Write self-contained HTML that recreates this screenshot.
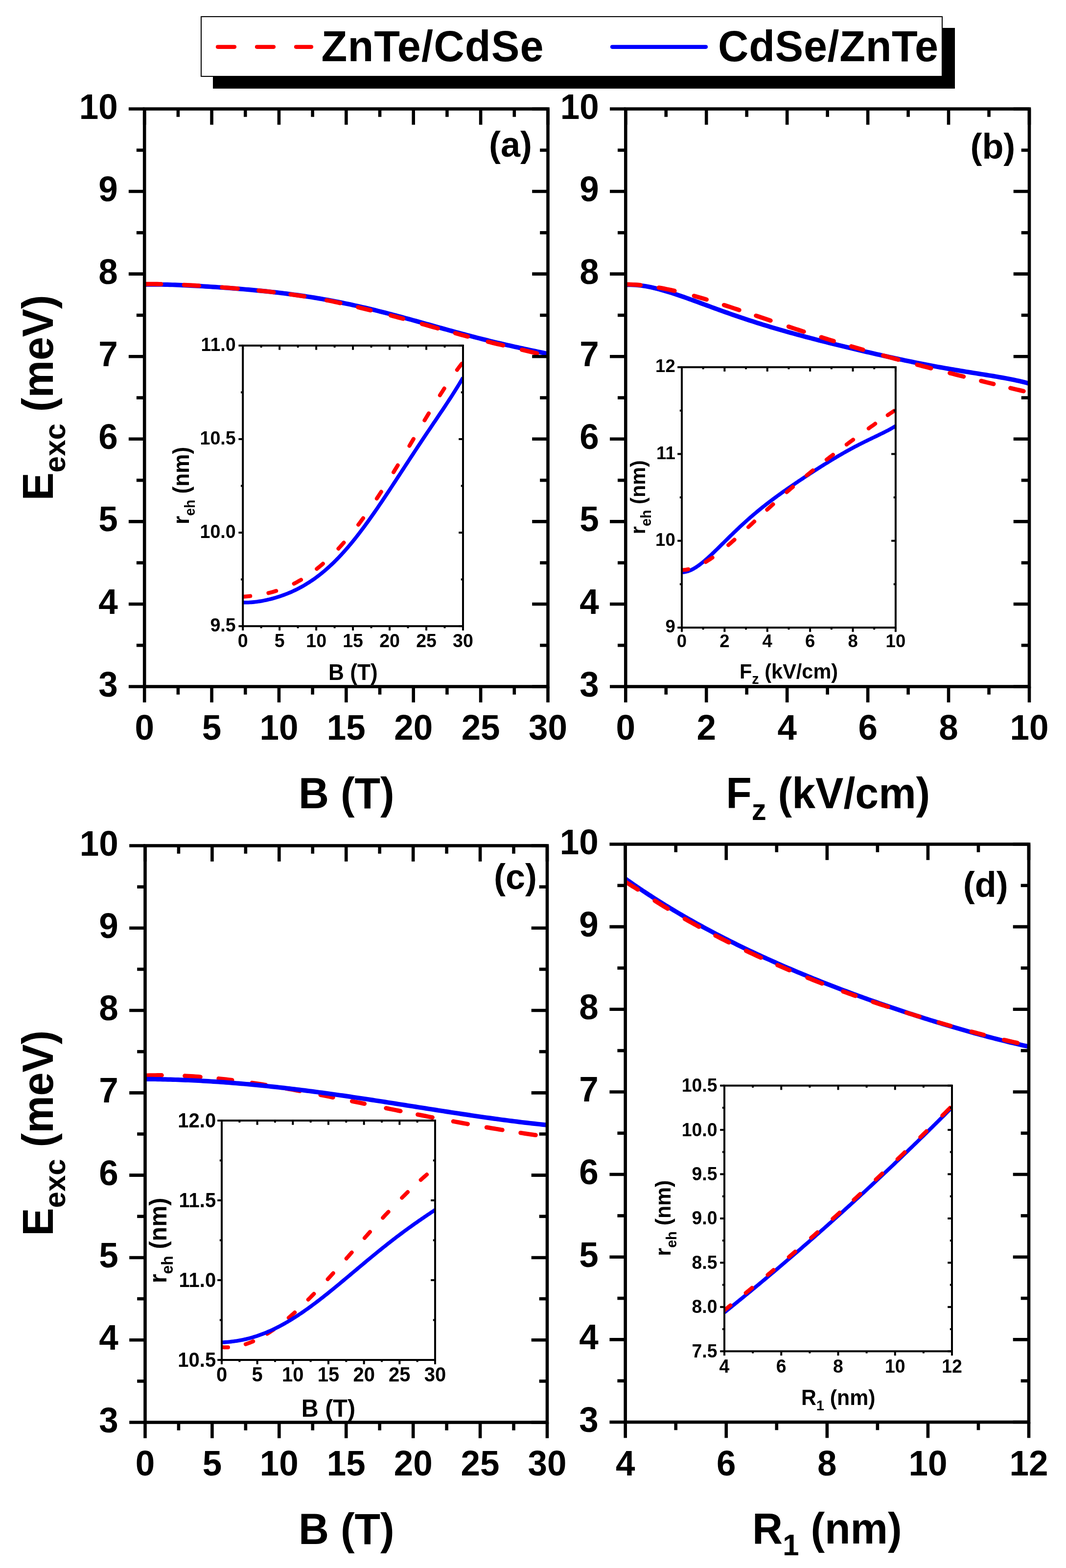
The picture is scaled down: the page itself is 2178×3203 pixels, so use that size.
<!DOCTYPE html>
<html><head><meta charset="utf-8"><title>Figure</title><style>html,body{margin:0;padding:0;background:#fff;}svg{display:block;}</style></head><body>
<svg width="2178" height="3203" viewBox="0 0 2178 3203" font-family="'Liberation Sans', Arial, sans-serif" font-weight="bold">
<rect width="2178" height="3203" fill="#fff"/>
<rect x="435" y="57" width="1516" height="124" fill="#000"/>
<rect x="411" y="34" width="1514" height="122" fill="#fff" stroke="#000" stroke-width="2"/>
<line x1="445" y1="95.8" x2="479" y2="95.8" stroke="#f00" stroke-width="8.2" stroke-linecap="round"/>
<line x1="525" y1="95.8" x2="559" y2="95.8" stroke="#f00" stroke-width="8.2" stroke-linecap="round"/>
<line x1="605" y1="95.8" x2="636" y2="95.8" stroke="#f00" stroke-width="8.2" stroke-linecap="round"/>
<line x1="1251" y1="95.8" x2="1442" y2="95.8" stroke="#00f" stroke-width="8.2" stroke-linecap="round"/>
<text transform="translate(656.5,124.8) scale(1,1.035)" font-size="86.5" text-anchor="start" letter-spacing="1.1">ZnTe/CdSe</text>
<text transform="translate(1467.1,124.8) scale(1,1.035)" font-size="86.5" text-anchor="start" letter-spacing="0.6">CdSe/ZnTe</text>
<defs>
<clipPath id="ca"><rect x="295.2" y="202.5" width="824.3" height="1200"/></clipPath>
<clipPath id="cb"><rect x="1278.3" y="202.5" width="824.7" height="1200"/></clipPath>
<clipPath id="cc"><rect x="296.5" y="1707.5" width="821.5" height="1198"/></clipPath>
<clipPath id="cd"><rect x="1277.7" y="1704.5" width="824.3" height="1200.5"/></clipPath>
<clipPath id="ia"><rect x="496.2" y="645.9" width="449.8" height="633.2"/></clipPath>
<clipPath id="ib"><rect x="1393" y="690.1" width="436.9" height="591.9"/></clipPath>
<clipPath id="ic"><rect x="453" y="2229" width="436" height="549"/></clipPath>
<clipPath id="id"><rect x="1480" y="2157.6" width="465" height="602.7"/></clipPath>
</defs>
<path d="M295.2,581.36 L300.38,581.25 L305.57,581.17 L310.75,581.13 L315.94,581.12 L321.12,581.13 L326.31,581.18 L331.49,581.25 L336.67,581.35 L341.86,581.47 L347.04,581.61 L352.23,581.76 L357.41,581.94 L362.6,582.13 L367.78,582.34 L372.96,582.56 L378.15,582.8 L383.33,583.04 L388.52,583.3 L393.7,583.57 L398.89,583.85 L404.07,584.14 L409.25,584.44 L414.44,584.75 L419.62,585.07 L424.81,585.39 L429.99,585.72 L435.18,586.06 L440.36,586.41 L445.54,586.77 L450.73,587.13 L455.91,587.5 L461.1,587.88 L466.28,588.27 L471.47,588.66 L476.65,589.07 L481.83,589.48 L487.02,589.9 L492.2,590.32 L497.39,590.76 L502.57,591.21 L507.76,591.67 L512.94,592.13 L518.12,592.61 L523.31,593.1 L528.49,593.6 L533.68,594.11 L538.86,594.63 L544.05,595.16 L549.23,595.71 L554.41,596.27 L559.6,596.84 L564.78,597.43 L569.97,598.03 L575.15,598.65 L580.34,599.28 L585.52,599.93 L590.7,600.59 L595.89,601.27 L601.07,601.97 L606.26,602.68 L611.44,603.41 L616.63,604.16 L621.81,604.92 L626.99,605.7 L632.18,606.5 L637.36,607.32 L642.55,608.16 L647.73,609.01 L652.92,609.89 L658.1,610.78 L663.28,611.7 L668.47,612.63 L673.65,613.58 L678.84,614.55 L684.02,615.54 L689.21,616.54 L694.39,617.57 L699.57,618.62 L704.76,619.68 L709.94,620.77 L715.13,621.87 L720.31,622.99 L725.49,624.13 L730.68,625.28 L735.86,626.45 L741.05,627.65 L746.23,628.85 L751.42,630.08 L756.6,631.32 L761.78,632.57 L766.97,633.84 L772.15,635.13 L777.34,636.43 L782.52,637.74 L787.71,639.07 L792.89,640.41 L798.07,641.76 L803.26,643.12 L808.44,644.49 L813.63,645.88 L818.81,647.27 L824,648.67 L829.18,650.08 L834.36,651.5 L839.55,652.93 L844.73,654.36 L849.92,655.79 L855.1,657.23 L860.29,658.67 L865.47,660.12 L870.65,661.57 L875.84,663.02 L881.02,664.47 L886.21,665.92 L891.39,667.37 L896.58,668.82 L901.76,670.26 L906.94,671.7 L912.13,673.14 L917.31,674.57 L922.5,676 L927.68,677.42 L932.87,678.84 L938.05,680.24 L943.23,681.64 L948.42,683.03 L953.6,684.41 L958.79,685.79 L963.97,687.15 L969.16,688.5 L974.34,689.84 L979.52,691.16 L984.71,692.48 L989.89,693.78 L995.08,695.07 L1000.26,696.35 L1005.45,697.61 L1010.63,698.86 L1015.81,700.1 L1021,701.33 L1026.18,702.54 L1031.37,703.74 L1036.55,704.93 L1041.74,706.1 L1046.92,707.26 L1052.1,708.42 L1057.29,709.56 L1062.47,710.69 L1067.66,711.81 L1072.84,712.92 L1078.03,714.03 L1083.21,715.13 L1088.39,716.23 L1093.58,717.32 L1098.76,718.41 L1103.95,719.5 L1109.13,720.59 L1114.32,721.68 L1119.5,722.78" fill="none" stroke="#00f" stroke-width="9.2" stroke-linejoin="round" stroke-linecap="butt" clip-path="url(#ca)"/>
<path d="M295.2,580.36 L300.38,580.27 L305.57,580.21 L310.75,580.19 L315.94,580.2 L321.12,580.24 L326.31,580.3 L331.49,580.4 L336.67,580.51 L341.86,580.65 L347.04,580.81 L352.23,580.99 L357.41,581.18 L362.6,581.4 L367.78,581.62 L372.96,581.87 L378.15,582.12 L383.33,582.39 L388.52,582.67 L393.7,582.96 L398.89,583.26 L404.07,583.57 L409.25,583.89 L414.44,584.22 L419.62,584.55 L424.81,584.9 L429.99,585.25 L435.18,585.61 L440.36,585.98 L445.54,586.36 L450.73,586.74 L455.91,587.13 L461.1,587.53 L466.28,587.94 L471.47,588.36 L476.65,588.78 L481.83,589.21 L487.02,589.65 L492.2,590.1 L497.39,590.56 L502.57,591.02 L507.76,591.5 L512.94,591.99 L518.12,592.48 L523.31,592.99 L528.49,593.51 L533.68,594.04 L538.86,594.58 L544.05,595.14 L549.23,595.71 L554.41,596.3 L559.6,596.92 L564.78,597.55 L569.97,598.19 L575.15,598.84 L580.34,599.52 L585.52,600.2 L590.7,600.91 L595.89,601.63 L601.07,602.36 L606.26,603.11 L611.44,603.88 L616.63,604.67 L621.81,605.47 L626.99,606.3 L632.18,607.14 L637.36,607.99 L642.55,608.87 L647.73,609.77 L652.92,610.68 L658.1,611.61 L663.28,612.57 L668.47,613.54 L673.65,614.53 L678.84,615.54 L684.02,616.62 L689.21,617.74 L694.39,618.88 L699.57,620.04 L704.76,621.21 L709.94,622.41 L715.13,623.62 L720.31,624.85 L725.49,626.1 L730.68,627.37 L735.86,628.65 L741.05,629.95 L746.23,631.27 L751.42,632.58 L756.6,633.82 L761.78,635.07 L766.97,636.34 L772.15,637.63 L777.34,638.93 L782.52,640.24 L787.71,641.57 L792.89,642.91 L798.07,644.26 L803.26,645.62 L808.44,646.99 L813.63,648.38 L818.81,649.77 L824,651.17 L829.18,652.58 L834.36,654 L839.55,655.43 L844.73,656.86 L849.92,658.29 L855.1,659.73 L860.29,661.17 L865.47,662.62 L870.65,664.07 L875.84,665.52 L881.02,666.97 L886.21,668.42 L891.39,669.87 L896.58,671.32 L901.76,672.76 L906.94,674.2 L912.13,675.64 L917.31,677.07 L922.5,678.5 L927.68,679.92 L932.87,681.34 L938.05,682.74 L943.23,684.14 L948.42,685.53 L953.6,686.91 L958.79,688.29 L963.97,689.65 L969.16,691 L974.34,692.34 L979.52,693.66 L984.71,694.98 L989.89,696.28 L995.08,697.57 L1000.26,698.85 L1005.45,700.11 L1010.63,701.36 L1015.81,702.6 L1021,703.83 L1026.18,705.04 L1031.37,706.24 L1036.55,707.43 L1041.74,708.6 L1046.92,709.76 L1052.1,710.98 L1057.29,712.27 L1062.47,713.55 L1067.66,714.82 L1072.84,716.09 L1078.03,717.34 L1083.21,718.59 L1088.39,719.84 L1093.58,721.08 L1098.76,722.32 L1103.95,723.56 L1109.13,724.8 L1114.32,726.05 L1119.5,727.28" fill="none" stroke="#f00" stroke-width="8.8" stroke-linejoin="round" stroke-dasharray="33.9 47.03 30.66 46.99 32.13 43.05 30.84 34.91 28.3 46.14 28.67 37.15 26.23 42.52 26.39 39.92 33.56 37.02 26.41 42.56 31.82 39.52 31.84 5000" stroke-linecap="round" clip-path="url(#ca)"/>
<path d="M1278.3,581.82 L1283.49,581.65 L1288.67,581.65 L1293.86,581.82 L1299.05,582.15 L1304.23,582.62 L1309.42,583.23 L1314.61,583.96 L1319.79,584.82 L1324.98,585.78 L1330.17,586.85 L1335.35,588.01 L1340.54,589.26 L1345.73,590.59 L1350.92,591.99 L1356.1,593.46 L1361.29,594.98 L1366.48,596.57 L1371.66,598.2 L1376.85,599.88 L1382.04,601.6 L1387.22,603.36 L1392.41,605.14 L1397.6,606.95 L1402.78,608.79 L1407.97,610.64 L1413.16,612.51 L1418.34,614.39 L1423.53,616.29 L1428.72,618.18 L1433.9,620.09 L1439.09,621.99 L1444.28,623.9 L1449.46,625.8 L1454.65,627.7 L1459.84,629.59 L1465.02,631.47 L1470.21,633.35 L1475.4,635.21 L1480.58,637.07 L1485.77,638.91 L1490.96,640.73 L1496.15,642.55 L1501.33,644.35 L1506.52,646.13 L1511.71,647.9 L1516.89,649.65 L1522.08,651.38 L1527.27,653.1 L1532.45,654.8 L1537.64,656.48 L1542.83,658.15 L1548.01,659.8 L1553.2,661.43 L1558.39,663.04 L1563.57,664.64 L1568.76,666.22 L1573.95,667.79 L1579.13,669.33 L1584.32,670.87 L1589.51,672.39 L1594.69,673.89 L1599.88,675.38 L1605.07,676.85 L1610.25,678.31 L1615.44,679.76 L1620.63,681.19 L1625.82,682.62 L1631,684.03 L1636.19,685.43 L1641.38,686.81 L1646.56,688.19 L1651.75,689.56 L1656.94,690.91 L1662.12,692.26 L1667.31,693.6 L1672.5,694.93 L1677.68,696.25 L1682.87,697.57 L1688.06,698.87 L1693.24,700.17 L1698.43,701.46 L1703.62,702.75 L1708.8,704.03 L1713.99,705.3 L1719.18,706.57 L1724.36,707.83 L1729.55,709.08 L1734.74,710.33 L1739.92,711.57 L1745.11,712.81 L1750.3,714.04 L1755.48,715.26 L1760.67,716.48 L1765.86,717.69 L1771.05,718.9 L1776.23,720.1 L1781.42,721.3 L1786.61,722.48 L1791.79,723.67 L1796.98,724.84 L1802.17,726.01 L1807.35,727.17 L1812.54,728.32 L1817.73,729.47 L1822.91,730.6 L1828.1,731.73 L1833.29,732.85 L1838.47,733.97 L1843.66,735.07 L1848.85,736.16 L1854.03,737.25 L1859.22,738.32 L1864.41,739.38 L1869.59,740.44 L1874.78,741.48 L1879.97,742.51 L1885.15,743.53 L1890.34,744.54 L1895.53,745.53 L1900.72,746.52 L1905.9,747.5 L1911.09,748.46 L1916.28,749.41 L1921.46,750.35 L1926.65,751.28 L1931.84,752.19 L1937.02,753.1 L1942.21,754 L1947.4,754.88 L1952.58,755.76 L1957.77,756.63 L1962.96,757.49 L1968.14,758.34 L1973.33,759.18 L1978.52,760.02 L1983.7,760.86 L1988.89,761.69 L1994.08,762.52 L1999.26,763.35 L2004.45,764.18 L2009.64,765.01 L2014.82,765.85 L2020.01,766.69 L2025.2,767.54 L2030.38,768.41 L2035.57,769.29 L2040.76,770.18 L2045.95,771.1 L2051.13,772.04 L2056.32,773 L2061.51,774 L2066.69,775.03 L2071.88,776.09 L2077.07,777.2 L2082.25,778.36 L2087.44,779.57 L2092.63,780.83 L2097.81,782.16 L2103,783.56" fill="none" stroke="#00f" stroke-width="9.2" stroke-linejoin="round" stroke-linecap="butt" clip-path="url(#cb)"/>
<path d="M1278.3,580.79 L1283.49,580.87 L1288.67,581.04 L1293.86,581.28 L1299.05,581.6 L1304.23,582 L1309.42,582.46 L1314.61,582.99 L1319.79,583.59 L1324.98,584.25 L1330.17,584.97 L1335.35,585.75 L1340.54,586.59 L1345.73,587.48 L1350.92,588.42 L1356.1,589.42 L1361.29,590.46 L1366.48,591.54 L1371.66,592.67 L1376.85,593.84 L1382.04,595.05 L1387.22,596.3 L1392.41,597.59 L1397.6,598.91 L1402.78,600.27 L1407.97,601.65 L1413.16,603.07 L1418.34,604.51 L1423.53,605.98 L1428.72,607.48 L1433.9,609 L1439.09,610.54 L1444.28,612.1 L1449.46,613.68 L1454.65,615.29 L1459.84,616.9 L1465.02,618.54 L1470.21,620.19 L1475.4,621.85 L1480.58,623.53 L1485.77,625.21 L1490.96,626.91 L1496.15,628.62 L1501.33,630.33 L1506.52,632.05 L1511.71,633.78 L1516.89,635.52 L1522.08,637.26 L1527.27,639 L1532.45,640.75 L1537.64,642.5 L1542.83,644.25 L1548.01,646 L1553.2,647.76 L1558.39,649.51 L1563.57,651.26 L1568.76,653.01 L1573.95,654.76 L1579.13,656.51 L1584.32,658.26 L1589.51,660 L1594.69,661.73 L1599.88,663.47 L1605.07,665.2 L1610.25,666.92 L1615.44,668.64 L1620.63,670.35 L1625.82,672.06 L1631,673.76 L1636.19,675.45 L1641.38,677.14 L1646.56,678.82 L1651.75,680.5 L1656.94,682.16 L1662.12,683.82 L1667.31,685.47 L1672.5,687.12 L1677.68,688.75 L1682.87,690.38 L1688.06,692 L1693.24,693.61 L1698.43,695.21 L1703.62,696.81 L1708.8,698.39 L1713.99,699.97 L1719.18,701.54 L1724.36,703.1 L1729.55,704.65 L1734.74,706.2 L1739.92,707.74 L1745.11,709.27 L1750.3,710.79 L1755.48,712.3 L1760.67,713.8 L1765.86,715.3 L1771.05,716.79 L1776.23,718.27 L1781.42,719.75 L1786.61,721.21 L1791.79,722.67 L1796.98,724.12 L1802.17,725.57 L1807.35,727.01 L1812.54,728.44 L1817.73,729.87 L1822.91,731.29 L1828.1,732.7 L1833.29,734.11 L1838.47,735.51 L1843.66,736.9 L1848.85,738.29 L1854.03,739.68 L1859.22,741.06 L1864.41,742.43 L1869.59,743.8 L1874.78,745.16 L1879.97,746.52 L1885.15,747.88 L1890.34,749.23 L1895.53,750.58 L1900.72,751.92 L1905.9,753.26 L1911.09,754.6 L1916.28,755.93 L1921.46,757.26 L1926.65,758.58 L1931.84,759.9 L1937.02,761.22 L1942.21,762.54 L1947.4,763.85 L1952.58,765.16 L1957.77,766.46 L1962.96,767.77 L1968.14,769.07 L1973.33,770.37 L1978.52,771.66 L1983.7,772.95 L1988.89,774.24 L1994.08,775.53 L1999.26,776.82 L2004.45,778.1 L2009.64,779.37 L2014.82,780.65 L2020.01,781.92 L2025.2,783.19 L2030.38,784.46 L2035.57,785.72 L2040.76,786.98 L2045.95,788.23 L2051.13,789.48 L2056.32,790.73 L2061.51,791.97 L2066.69,793.2 L2071.88,794.44 L2077.07,795.66 L2082.25,796.88 L2087.44,798.1 L2092.63,799.3 L2097.81,800.51 L2103,801.7" fill="none" stroke="#f00" stroke-width="8.8" stroke-linejoin="round" stroke-dasharray="30.47 37.68 32.86 41.13 26.62 37.31 32.78 36.13 31.41 38.96 32.67 37.36 26.8 37.21 25.27 42.68 32.15 39.74 29.23 39.66 29.15 36.83 26.21 35.44 27.57 5000" stroke-linecap="round" clip-path="url(#cb)"/>
<path d="M296.5,2197.03 L301.67,2196.86 L306.83,2196.72 L312,2196.62 L317.17,2196.54 L322.33,2196.49 L327.5,2196.48 L332.67,2196.49 L337.83,2196.53 L343,2196.6 L348.17,2196.7 L353.33,2196.83 L358.5,2196.98 L363.67,2197.16 L368.83,2197.36 L374,2197.59 L379.17,2197.84 L384.33,2198.12 L389.5,2198.43 L394.67,2198.75 L399.83,2199.1 L405,2199.47 L410.17,2199.87 L415.33,2200.29 L420.5,2200.72 L425.67,2201.18 L430.83,2201.66 L436,2202.16 L441.17,2202.68 L446.33,2203.22 L451.5,2203.78 L456.67,2204.35 L461.83,2204.95 L467,2205.56 L472.17,2206.19 L477.33,2206.84 L482.5,2207.5 L487.67,2208.18 L492.83,2208.87 L498,2209.58 L503.17,2210.31 L508.33,2211.04 L513.5,2211.8 L518.67,2212.56 L523.83,2213.34 L529,2214.14 L534.17,2214.94 L539.33,2215.76 L544.5,2216.59 L549.67,2217.43 L554.83,2218.29 L560,2219.15 L565.17,2220.03 L570.33,2220.91 L575.5,2221.81 L580.67,2222.71 L585.83,2223.63 L591,2224.55 L596.17,2225.48 L601.33,2226.42 L606.5,2227.37 L611.67,2228.32 L616.83,2229.29 L622,2230.26 L627.17,2231.23 L632.33,2232.22 L637.5,2233.21 L642.67,2234.2 L647.83,2235.2 L653,2236.21 L658.17,2237.22 L663.33,2238.23 L668.5,2239.25 L673.67,2240.28 L678.83,2241.31 L684,2242.34 L689.17,2243.37 L694.33,2244.41 L699.5,2245.45 L704.67,2246.5 L709.83,2247.54 L715,2248.59 L720.17,2249.64 L725.33,2250.7 L730.5,2251.75 L735.67,2252.8 L740.83,2253.86 L746,2254.91 L751.17,2255.97 L756.33,2257.03 L761.5,2258.08 L766.67,2259.14 L771.83,2260.2 L777,2261.25 L782.17,2262.31 L787.33,2263.36 L792.5,2264.41 L797.67,2265.47 L802.83,2266.52 L808,2267.56 L813.17,2268.61 L818.33,2269.65 L823.5,2270.69 L828.67,2271.73 L833.83,2272.77 L839,2273.8 L844.17,2274.83 L849.33,2275.86 L854.5,2276.89 L859.67,2277.91 L864.83,2278.92 L870,2279.94 L875.17,2280.95 L880.33,2281.95 L885.5,2282.95 L890.67,2283.95 L895.83,2284.94 L901,2285.93 L906.17,2286.91 L911.33,2287.89 L916.5,2288.86 L921.67,2289.83 L926.83,2290.79 L932,2291.75 L937.17,2292.7 L942.33,2293.65 L947.5,2294.59 L952.67,2295.53 L957.83,2296.46 L963,2297.38 L968.17,2298.3 L973.33,2299.21 L978.5,2300.12 L983.67,2301.02 L988.83,2301.91 L994,2302.8 L999.17,2303.68 L1004.33,2304.55 L1009.5,2305.42 L1014.67,2306.28 L1019.83,2307.13 L1025,2307.98 L1030.17,2308.82 L1035.33,2309.65 L1040.5,2310.48 L1045.67,2311.3 L1050.83,2312.11 L1056,2312.92 L1061.17,2313.72 L1066.33,2314.51 L1071.5,2315.3 L1076.67,2316.08 L1081.83,2316.85 L1087,2317.61 L1092.17,2318.37 L1097.33,2319.12 L1102.5,2319.86 L1107.67,2320.6 L1112.83,2321.33 L1118,2322.05" fill="none" stroke="#f00" stroke-width="8.8" stroke-linejoin="round" stroke-dasharray="33.91 47.12 31.99 37.52 27.54 41.1 28.34 42.07 28.81 43.01 25.96 39.71 25.9 44.93 30.08 36.03 30.53 43.41 29.93 39.26 32.57 37.76 31.04 5000" stroke-linecap="round" clip-path="url(#cc)"/>
<path d="M296.5,2204.3 L301.67,2204.34 L306.83,2204.39 L312,2204.45 L317.17,2204.52 L322.33,2204.6 L327.5,2204.7 L332.67,2204.81 L337.83,2204.93 L343,2205.06 L348.17,2205.2 L353.33,2205.35 L358.5,2205.51 L363.67,2205.69 L368.83,2205.87 L374,2206.07 L379.17,2206.28 L384.33,2206.5 L389.5,2206.73 L394.67,2206.97 L399.83,2207.23 L405,2207.49 L410.17,2207.77 L415.33,2208.05 L420.5,2208.35 L425.67,2208.65 L430.83,2208.97 L436,2209.3 L441.17,2209.64 L446.33,2209.99 L451.5,2210.34 L456.67,2210.71 L461.83,2211.09 L467,2211.48 L472.17,2211.88 L477.33,2212.29 L482.5,2212.71 L487.67,2213.14 L492.83,2213.58 L498,2214.03 L503.17,2214.48 L508.33,2214.95 L513.5,2215.43 L518.67,2215.91 L523.83,2216.41 L529,2216.91 L534.17,2217.43 L539.33,2217.95 L544.5,2218.48 L549.67,2219.02 L554.83,2219.56 L560,2220.12 L565.17,2220.69 L570.33,2221.26 L575.5,2221.84 L580.67,2222.43 L585.83,2223.03 L591,2223.63 L596.17,2224.24 L601.33,2224.86 L606.5,2225.49 L611.67,2226.13 L616.83,2226.77 L622,2227.42 L627.17,2228.07 L632.33,2228.74 L637.5,2229.41 L642.67,2230.08 L647.83,2230.77 L653,2231.46 L658.17,2232.15 L663.33,2232.85 L668.5,2233.56 L673.67,2234.27 L678.83,2234.99 L684,2235.72 L689.17,2236.45 L694.33,2237.18 L699.5,2237.92 L704.67,2238.67 L709.83,2239.42 L715,2240.17 L720.17,2240.93 L725.33,2241.69 L730.5,2242.46 L735.67,2243.23 L740.83,2244.01 L746,2244.78 L751.17,2245.57 L756.33,2246.35 L761.5,2247.14 L766.67,2247.93 L771.83,2248.73 L777,2249.52 L782.17,2250.32 L787.33,2251.13 L792.5,2251.93 L797.67,2252.74 L802.83,2253.55 L808,2254.35 L813.17,2255.17 L818.33,2255.98 L823.5,2256.79 L828.67,2257.61 L833.83,2258.42 L839,2259.24 L844.17,2260.05 L849.33,2260.87 L854.5,2261.68 L859.67,2262.5 L864.83,2263.32 L870,2264.13 L875.17,2264.94 L880.33,2265.76 L885.5,2266.57 L890.67,2267.38 L895.83,2268.18 L901,2268.99 L906.17,2269.79 L911.33,2270.6 L916.5,2271.4 L921.67,2272.19 L926.83,2272.99 L932,2273.78 L937.17,2274.56 L942.33,2275.35 L947.5,2276.13 L952.67,2276.9 L957.83,2277.67 L963,2278.44 L968.17,2279.2 L973.33,2279.96 L978.5,2280.71 L983.67,2281.45 L988.83,2282.19 L994,2282.93 L999.17,2283.66 L1004.33,2284.38 L1009.5,2285.09 L1014.67,2285.8 L1019.83,2286.5 L1025,2287.2 L1030.17,2287.88 L1035.33,2288.56 L1040.5,2289.23 L1045.67,2289.89 L1050.83,2290.55 L1056,2291.19 L1061.17,2291.82 L1066.33,2292.45 L1071.5,2293.07 L1076.67,2293.67 L1081.83,2294.27 L1087,2294.85 L1092.17,2295.43 L1097.33,2295.99 L1102.5,2296.54 L1107.67,2297.08 L1112.83,2297.61 L1118,2298.13" fill="none" stroke="#00f" stroke-width="9.2" stroke-linejoin="round" stroke-linecap="butt" clip-path="url(#cc)"/>
<path d="M1277.7,1795.08 L1282.88,1798.74 L1288.07,1802.37 L1293.25,1805.96 L1298.44,1809.52 L1303.62,1813.05 L1308.81,1816.55 L1313.99,1820.01 L1319.17,1823.44 L1324.36,1826.84 L1329.54,1830.22 L1334.73,1833.56 L1339.91,1836.87 L1345.1,1840.15 L1350.28,1843.4 L1355.46,1846.63 L1360.65,1849.83 L1365.83,1853 L1371.02,1856.14 L1376.2,1859.25 L1381.39,1862.34 L1386.57,1865.41 L1391.75,1868.45 L1396.94,1871.46 L1402.12,1874.45 L1407.31,1877.41 L1412.49,1880.35 L1417.68,1883.27 L1422.86,1886.16 L1428.04,1889.03 L1433.23,1891.87 L1438.41,1894.7 L1443.6,1897.5 L1448.78,1900.28 L1453.97,1903.04 L1459.15,1905.78 L1464.33,1908.49 L1469.52,1911.19 L1474.7,1913.86 L1479.89,1916.52 L1485.07,1919.16 L1490.26,1921.77 L1495.44,1924.37 L1500.62,1926.95 L1505.81,1929.51 L1510.99,1932.05 L1516.18,1934.57 L1521.36,1937.07 L1526.55,1939.56 L1531.73,1942.03 L1536.91,1944.48 L1542.1,1946.92 L1547.28,1949.33 L1552.47,1951.73 L1557.65,1954.12 L1562.84,1956.49 L1568.02,1958.84 L1573.2,1961.18 L1578.39,1963.5 L1583.57,1965.81 L1588.76,1968.1 L1593.94,1970.38 L1599.13,1972.64 L1604.31,1974.89 L1609.49,1977.12 L1614.68,1979.34 L1619.86,1981.54 L1625.05,1983.74 L1630.23,1985.91 L1635.42,1988.08 L1640.6,1990.23 L1645.78,1992.37 L1650.97,1994.49 L1656.15,1996.6 L1661.34,1998.7 L1666.52,2000.79 L1671.71,2002.86 L1676.89,2004.93 L1682.07,2006.98 L1687.26,2009.02 L1692.44,2011.04 L1697.63,2013.06 L1702.81,2015.06 L1707.99,2017.05 L1713.18,2019.03 L1718.36,2021 L1723.55,2022.96 L1728.73,2024.91 L1733.92,2026.85 L1739.1,2028.77 L1744.28,2030.69 L1749.47,2032.59 L1754.65,2034.49 L1759.84,2036.37 L1765.02,2038.25 L1770.21,2040.11 L1775.39,2041.96 L1780.57,2043.81 L1785.76,2045.64 L1790.94,2047.46 L1796.13,2049.28 L1801.31,2051.08 L1806.5,2052.87 L1811.68,2054.66 L1816.86,2056.43 L1822.05,2058.2 L1827.23,2059.95 L1832.42,2061.7 L1837.6,2063.43 L1842.79,2065.16 L1847.97,2066.88 L1853.15,2068.58 L1858.34,2070.28 L1863.52,2071.97 L1868.71,2073.65 L1873.89,2075.32 L1879.08,2076.98 L1884.26,2078.63 L1889.44,2080.27 L1894.63,2081.9 L1899.81,2083.52 L1905,2085.13 L1910.18,2086.73 L1915.37,2088.32 L1920.55,2089.91 L1925.73,2091.48 L1930.92,2093.04 L1936.1,2094.59 L1941.29,2096.13 L1946.47,2097.66 L1951.66,2099.18 L1956.84,2100.69 L1962.02,2102.19 L1967.21,2103.68 L1972.39,2105.16 L1977.58,2106.62 L1982.76,2108.08 L1987.95,2109.52 L1993.13,2110.95 L1998.31,2112.37 L2003.5,2113.78 L2008.68,2115.17 L2013.87,2116.56 L2019.05,2117.93 L2024.24,2119.29 L2029.42,2120.63 L2034.6,2121.96 L2039.79,2123.28 L2044.97,2124.59 L2050.16,2125.88 L2055.34,2127.15 L2060.53,2128.41 L2065.71,2129.66 L2070.89,2130.89 L2076.08,2132.1 L2081.26,2133.3 L2086.45,2134.49 L2091.63,2135.65 L2096.82,2136.8 L2102,2137.93" fill="none" stroke="#00f" stroke-width="9.2" stroke-linejoin="round" stroke-linecap="butt" clip-path="url(#cd)"/>
<path d="M1277.7,1801.08 L1282.88,1804.41 L1288.07,1807.68 L1293.25,1810.92 L1298.44,1814.13 L1303.62,1817.54 L1308.81,1821.02 L1313.99,1824.46 L1319.17,1827.88 L1324.36,1831.26 L1329.54,1834.62 L1334.73,1837.94 L1339.91,1841.23 L1345.1,1844.5 L1350.28,1847.74 L1355.46,1850.94 L1360.65,1854.12 L1365.83,1857.28 L1371.02,1860.4 L1376.2,1863.5 L1381.39,1866.57 L1386.57,1869.62 L1391.75,1872.64 L1396.94,1875.64 L1402.12,1878.61 L1407.31,1881.55 L1412.49,1884.48 L1417.68,1887.37 L1422.86,1890.25 L1428.04,1893.1 L1433.23,1895.93 L1438.41,1898.74 L1443.6,1901.52 L1448.78,1904.29 L1453.97,1907.02 L1459.15,1909.74 L1464.33,1912.44 L1469.52,1915.11 L1474.7,1917.77 L1479.89,1920.4 L1485.07,1923.02 L1490.26,1925.61 L1495.44,1928.19 L1500.62,1930.74 L1505.81,1933.28 L1510.99,1935.8 L1516.18,1938.3 L1521.36,1940.79 L1526.55,1943.25 L1531.73,1945.7 L1536.91,1948.13 L1542.1,1950.55 L1547.28,1952.94 L1552.47,1955.33 L1557.65,1957.69 L1562.84,1960.04 L1568.02,1962.37 L1573.2,1964.69 L1578.39,1966.99 L1583.57,1969.27 L1588.76,1971.55 L1593.94,1973.8 L1599.13,1976.04 L1604.31,1978.27 L1609.49,1980.48 L1614.68,1982.68 L1619.86,1984.86 L1625.05,1987.04 L1630.23,1989.19 L1635.42,1991.34 L1640.6,1993.47 L1645.78,1995.58 L1650.97,1997.69 L1656.15,1999.78 L1661.34,2001.86 L1666.52,2003.92 L1671.71,2005.98 L1676.89,2008.02 L1682.07,2010.05 L1687.26,2012.07 L1692.44,2014.07 L1697.63,2016.07 L1702.81,2018.02 L1707.99,2019.93 L1713.18,2021.82 L1718.36,2023.71 L1723.55,2025.59 L1728.73,2027.45 L1733.92,2029.3 L1739.1,2031.15 L1744.28,2032.98 L1749.47,2034.8 L1754.65,2036.61 L1759.84,2038.41 L1765.02,2040.21 L1770.21,2041.99 L1775.39,2043.76 L1780.57,2045.52 L1785.76,2047.27 L1790.94,2049.01 L1796.13,2050.74 L1801.31,2052.45 L1806.5,2054.14 L1811.68,2055.82 L1816.86,2057.49 L1822.05,2059.16 L1827.23,2060.81 L1832.42,2062.45 L1837.6,2064.08 L1842.79,2065.7 L1847.97,2067.32 L1853.15,2068.92 L1858.34,2070.51 L1863.52,2072.1 L1868.71,2073.67 L1873.89,2075.28 L1879.08,2076.88 L1884.26,2078.47 L1889.44,2080.06 L1894.63,2081.63 L1899.81,2083.2 L1905,2084.75 L1910.18,2086.3 L1915.37,2087.83 L1920.55,2089.36 L1925.73,2090.87 L1930.92,2092.38 L1936.1,2093.87 L1941.29,2095.36 L1946.47,2096.83 L1951.66,2098.29 L1956.84,2099.75 L1962.02,2101.19 L1967.21,2102.62 L1972.39,2104.04 L1977.58,2105.45 L1982.76,2106.85 L1987.95,2108.24 L1993.13,2109.61 L1998.31,2110.98 L2003.5,2112.33 L2008.68,2113.67 L2013.87,2114.99 L2019.05,2116.31 L2024.24,2117.61 L2029.42,2118.9 L2034.6,2120.17 L2039.79,2121.44 L2044.97,2122.68 L2050.16,2123.92 L2055.34,2125.14 L2060.53,2126.34 L2065.71,2127.53 L2070.89,2128.71 L2076.08,2129.86 L2081.26,2131.01 L2086.45,2132.13 L2091.63,2133.24 L2096.82,2134.34 L2102,2135.43" fill="none" stroke="#f00" stroke-width="8.8" stroke-linejoin="round" stroke-dasharray="30.01 41.43 31.22 40.38 33.39 38.05 30.93 39.06 33.23 37.16 26.69 39.76 32.21 46.08 26.76 37.57 32.48 39.63 27.61 41.18 25.24 44.39 26.04 42.48 28.33 5000" stroke-linecap="round" clip-path="url(#cd)"/>
<path d="M496.2,1230.75 L499.03,1230.81 L501.86,1230.82 L504.69,1230.77 L507.52,1230.68 L510.34,1230.54 L513.17,1230.35 L516,1230.12 L518.83,1229.85 L521.66,1229.54 L524.49,1229.19 L527.32,1228.8 L530.15,1228.37 L532.98,1227.91 L535.81,1227.41 L538.63,1226.88 L541.46,1226.32 L544.29,1225.72 L547.12,1225.08 L549.95,1224.42 L552.78,1223.72 L555.61,1222.99 L558.44,1222.23 L561.27,1221.43 L564.09,1220.6 L566.92,1219.73 L569.75,1218.83 L572.58,1217.9 L575.41,1216.93 L578.24,1215.93 L581.07,1214.89 L583.9,1213.82 L586.73,1212.7 L589.55,1211.55 L592.38,1210.37 L595.21,1209.14 L598.04,1207.87 L600.87,1206.56 L603.7,1205.21 L606.53,1203.82 L609.36,1202.38 L612.19,1200.91 L615.02,1199.38 L617.84,1197.81 L620.67,1196.2 L623.5,1194.54 L626.33,1192.83 L629.16,1191.08 L631.99,1189.27 L634.82,1187.42 L637.65,1185.52 L640.48,1183.56 L643.3,1181.56 L646.13,1179.5 L648.96,1177.39 L651.79,1175.23 L654.62,1173.02 L657.45,1170.75 L660.28,1168.43 L663.11,1166.06 L665.94,1163.63 L668.76,1161.15 L671.59,1158.61 L674.42,1156.02 L677.25,1153.37 L680.08,1150.67 L682.91,1147.92 L685.74,1145.11 L688.57,1142.25 L691.4,1139.34 L694.23,1136.37 L697.05,1133.34 L699.88,1130.27 L702.71,1127.14 L705.54,1123.96 L708.37,1120.74 L711.2,1117.46 L714.03,1114.13 L716.86,1110.75 L719.69,1107.32 L722.51,1103.84 L725.34,1100.32 L728.17,1096.76 L731,1093.14 L733.83,1089.49 L736.66,1085.79 L739.49,1082.05 L742.32,1078.27 L745.15,1074.45 L747.97,1070.6 L750.8,1066.7 L753.63,1062.78 L756.46,1058.81 L759.29,1054.82 L762.12,1050.79 L764.95,1046.73 L767.78,1042.65 L770.61,1038.54 L773.44,1034.4 L776.26,1030.24 L779.09,1026.06 L781.92,1021.86 L784.75,1017.63 L787.58,1013.39 L790.41,1009.13 L793.24,1004.86 L796.07,1000.58 L798.9,996.28 L801.72,991.97 L804.55,987.66 L807.38,983.34 L810.21,979.01 L813.04,974.67 L815.87,970.34 L818.7,966 L821.53,961.66 L824.36,957.32 L827.18,952.98 L830.01,948.65 L832.84,944.32 L835.67,939.99 L838.5,935.68 L841.33,931.36 L844.16,927.06 L846.99,922.76 L849.82,918.47 L852.65,914.19 L855.47,909.91 L858.3,905.65 L861.13,901.4 L863.96,897.15 L866.79,892.91 L869.62,888.69 L872.45,884.47 L875.28,880.25 L878.11,876.05 L880.93,871.85 L883.76,867.65 L886.59,863.46 L889.42,859.27 L892.25,855.07 L895.08,850.88 L897.91,846.68 L900.74,842.47 L903.57,838.26 L906.39,834.03 L909.22,829.79 L912.05,825.52 L914.88,821.24 L917.71,816.93 L920.54,812.59 L923.37,808.21 L926.2,803.79 L929.03,799.33 L931.86,794.82 L934.68,790.25 L937.51,785.62 L940.34,780.92 L943.17,776.15 L946,771.29" fill="none" stroke="#00f" stroke-width="7.6" stroke-linejoin="round" stroke-linecap="butt" clip-path="url(#ia)"/>
<path d="M496.2,1218.86 L499.03,1218.66 L501.86,1218.45 L504.69,1218.21 L507.52,1217.95 L510.34,1217.68 L513.17,1217.38 L516,1217.06 L518.83,1216.71 L521.66,1216.34 L524.49,1215.94 L527.32,1215.51 L530.15,1215.06 L532.98,1214.58 L535.81,1214.07 L538.63,1213.52 L541.46,1212.95 L544.29,1212.34 L547.12,1211.7 L549.95,1211.02 L552.78,1210.31 L555.61,1209.56 L558.44,1208.78 L561.27,1207.96 L564.09,1207.1 L566.92,1206.2 L569.75,1205.26 L572.58,1204.28 L575.41,1203.26 L578.24,1202.2 L581.07,1201.1 L583.9,1199.95 L586.73,1198.76 L589.55,1197.53 L592.38,1196.25 L595.21,1194.92 L598.04,1193.55 L600.87,1192.14 L603.7,1190.68 L606.53,1189.17 L609.36,1187.61 L612.19,1186.01 L615.02,1184.36 L617.84,1182.66 L620.67,1180.91 L623.5,1179.11 L626.33,1177.26 L629.16,1175.36 L631.99,1173.41 L634.82,1171.42 L637.65,1169.37 L640.48,1167.27 L643.3,1165.12 L646.13,1162.92 L648.96,1160.66 L651.79,1158.36 L654.62,1156 L657.45,1153.6 L660.28,1151.14 L663.11,1148.63 L665.94,1146.07 L668.76,1143.46 L671.59,1140.79 L674.42,1138.08 L677.25,1135.31 L680.08,1132.49 L682.91,1129.63 L685.74,1126.71 L688.57,1123.74 L691.4,1120.72 L694.23,1117.65 L697.05,1114.53 L699.88,1111.36 L702.71,1108.14 L705.54,1104.87 L708.37,1101.55 L711.2,1098.19 L714.03,1094.77 L716.86,1091.31 L719.69,1087.8 L722.51,1084.25 L725.34,1080.65 L728.17,1077 L731,1073.31 L733.83,1069.57 L736.66,1065.79 L739.49,1061.97 L742.32,1058.1 L745.15,1054.19 L747.97,1050.24 L750.8,1046.25 L753.63,1042.22 L756.46,1038.15 L759.29,1034.05 L762.12,1029.9 L764.95,1025.72 L767.78,1021.5 L770.61,1017.25 L773.44,1012.96 L776.26,1008.64 L779.09,1004.28 L781.92,999.9 L784.75,995.48 L787.58,991.04 L790.41,986.57 L793.24,982.07 L796.07,977.54 L798.9,972.99 L801.72,968.42 L804.55,963.82 L807.38,959.21 L810.21,954.57 L813.04,949.91 L815.87,945.24 L818.7,940.55 L821.53,935.85 L824.36,931.13 L827.18,926.4 L830.01,921.66 L832.84,916.91 L835.67,912.15 L838.5,907.39 L841.33,902.62 L844.16,897.85 L846.99,893.08 L849.82,888.31 L852.65,883.54 L855.47,878.77 L858.3,874.01 L861.13,869.25 L863.96,864.51 L866.79,859.77 L869.62,855.05 L872.45,850.34 L875.28,845.65 L878.11,840.98 L880.93,836.33 L883.76,831.69 L886.59,827.09 L889.42,822.51 L892.25,817.95 L895.08,813.43 L897.91,808.94 L900.74,804.48 L903.57,800.06 L906.39,795.68 L909.22,791.34 L912.05,787.04 L914.88,782.79 L917.71,778.59 L920.54,774.43 L923.37,770.33 L926.2,766.29 L929.03,762.3 L931.86,758.37 L934.68,754.51 L937.51,750.7 L940.34,746.97 L943.17,743.31 L946,739.72" fill="none" stroke="#f00" stroke-width="8" stroke-linejoin="round" stroke-dasharray="15.18 37.62 16.5 39.22 16.5 39.13 16.5 44.13 16.5 47.14 16.5 48.9 16.5 47.27 16.5 46.3 16.5 44.12 16.5 43.59 16.5 46.04 16 5000" stroke-linecap="round" clip-path="url(#ia)"/>
<path d="M1393,1168.96 L1395.75,1168.9 L1398.5,1168.61 L1401.24,1168.11 L1403.99,1167.41 L1406.74,1166.52 L1409.49,1165.46 L1412.23,1164.24 L1414.98,1162.87 L1417.73,1161.36 L1420.48,1159.72 L1423.23,1157.96 L1425.97,1156.08 L1428.72,1154.11 L1431.47,1152.04 L1434.22,1149.88 L1436.96,1147.64 L1439.71,1145.34 L1442.46,1142.97 L1445.21,1140.54 L1447.96,1138.06 L1450.7,1135.53 L1453.45,1132.97 L1456.2,1130.37 L1458.95,1127.74 L1461.69,1125.08 L1464.44,1122.4 L1467.19,1119.71 L1469.94,1117.01 L1472.69,1114.29 L1475.43,1111.57 L1478.18,1108.85 L1480.93,1106.13 L1483.68,1103.41 L1486.43,1100.69 L1489.17,1097.99 L1491.92,1095.29 L1494.67,1092.6 L1497.42,1089.93 L1500.16,1087.28 L1502.91,1084.64 L1505.66,1082.02 L1508.41,1079.41 L1511.16,1076.83 L1513.9,1074.27 L1516.65,1071.72 L1519.4,1069.2 L1522.15,1066.71 L1524.89,1064.23 L1527.64,1061.78 L1530.39,1059.35 L1533.14,1056.95 L1535.89,1054.56 L1538.63,1052.2 L1541.38,1049.87 L1544.13,1047.56 L1546.88,1045.27 L1549.62,1043 L1552.37,1040.75 L1555.12,1038.53 L1557.87,1036.32 L1560.62,1034.14 L1563.36,1031.98 L1566.11,1029.83 L1568.86,1027.71 L1571.61,1025.6 L1574.35,1023.51 L1577.1,1021.44 L1579.85,1019.39 L1582.6,1017.35 L1585.35,1015.32 L1588.09,1013.31 L1590.84,1011.32 L1593.59,1009.34 L1596.34,1007.37 L1599.08,1005.41 L1601.83,1003.47 L1604.58,1001.53 L1607.33,999.61 L1610.08,997.7 L1612.82,995.79 L1615.57,993.9 L1618.32,992.01 L1621.07,990.14 L1623.82,988.27 L1626.56,986.41 L1629.31,984.55 L1632.06,982.71 L1634.81,980.87 L1637.55,979.03 L1640.3,977.21 L1643.05,975.39 L1645.8,973.57 L1648.55,971.76 L1651.29,969.96 L1654.04,968.16 L1656.79,966.37 L1659.54,964.59 L1662.28,962.81 L1665.03,961.04 L1667.78,959.28 L1670.53,957.52 L1673.28,955.77 L1676.02,954.02 L1678.77,952.29 L1681.52,950.56 L1684.27,948.83 L1687.01,947.12 L1689.76,945.42 L1692.51,943.72 L1695.26,942.04 L1698.01,940.36 L1700.75,938.69 L1703.5,937.04 L1706.25,935.39 L1709,933.76 L1711.74,932.14 L1714.49,930.53 L1717.24,928.93 L1719.99,927.34 L1722.74,925.77 L1725.48,924.21 L1728.23,922.66 L1730.98,921.13 L1733.73,919.61 L1736.47,918.1 L1739.22,916.61 L1741.97,915.13 L1744.72,913.67 L1747.47,912.22 L1750.21,910.78 L1752.96,909.36 L1755.71,907.95 L1758.46,906.55 L1761.21,905.16 L1763.95,903.79 L1766.7,902.42 L1769.45,901.07 L1772.2,899.72 L1774.94,898.39 L1777.69,897.06 L1780.44,895.73 L1783.19,894.41 L1785.94,893.09 L1788.68,891.77 L1791.43,890.45 L1794.18,889.12 L1796.93,887.79 L1799.67,886.45 L1802.42,885.1 L1805.17,883.74 L1807.92,882.36 L1810.67,880.95 L1813.41,879.52 L1816.16,878.07 L1818.91,876.58 L1821.66,875.05 L1824.4,873.49 L1827.15,871.87 L1829.9,870.21" fill="none" stroke="#00f" stroke-width="7.6" stroke-linejoin="round" stroke-linecap="butt" clip-path="url(#ib)"/>
<path d="M1393,1164.24 L1395.75,1164.18 L1398.5,1163.99 L1401.24,1163.69 L1403.99,1163.27 L1406.74,1162.74 L1409.49,1162.11 L1412.23,1161.37 L1414.98,1160.54 L1417.73,1159.62 L1420.48,1158.6 L1423.23,1157.49 L1425.97,1156.3 L1428.72,1155.04 L1431.47,1153.69 L1434.22,1152.27 L1436.96,1150.78 L1439.71,1149.22 L1442.46,1147.59 L1445.21,1145.9 L1447.96,1144.16 L1450.7,1142.35 L1453.45,1140.5 L1456.2,1138.59 L1458.95,1136.63 L1461.69,1134.62 L1464.44,1132.57 L1467.19,1130.48 L1469.94,1128.35 L1472.69,1126.19 L1475.43,1123.98 L1478.18,1121.75 L1480.93,1119.48 L1483.68,1117.19 L1486.43,1114.86 L1489.17,1112.52 L1491.92,1110.14 L1494.67,1107.75 L1497.42,1105.34 L1500.16,1102.9 L1502.91,1100.45 L1505.66,1097.99 L1508.41,1095.51 L1511.16,1093.02 L1513.9,1090.52 L1516.65,1088 L1519.4,1085.48 L1522.15,1082.95 L1524.89,1080.42 L1527.64,1077.88 L1530.39,1075.33 L1533.14,1072.79 L1535.89,1070.24 L1538.63,1067.68 L1541.38,1065.13 L1544.13,1062.58 L1546.88,1060.03 L1549.62,1057.48 L1552.37,1054.94 L1555.12,1052.4 L1557.87,1049.86 L1560.62,1047.33 L1563.36,1044.8 L1566.11,1042.28 L1568.86,1039.76 L1571.61,1037.25 L1574.35,1034.75 L1577.1,1032.26 L1579.85,1029.77 L1582.6,1027.3 L1585.35,1024.83 L1588.09,1022.37 L1590.84,1019.92 L1593.59,1017.48 L1596.34,1015.04 L1599.08,1012.62 L1601.83,1010.21 L1604.58,1007.81 L1607.33,1005.42 L1610.08,1003.04 L1612.82,1000.67 L1615.57,998.31 L1618.32,995.96 L1621.07,993.62 L1623.82,991.29 L1626.56,988.97 L1629.31,986.66 L1632.06,984.36 L1634.81,982.07 L1637.55,979.79 L1640.3,977.53 L1643.05,975.27 L1645.8,973.02 L1648.55,970.78 L1651.29,968.55 L1654.04,966.33 L1656.79,964.12 L1659.54,961.92 L1662.28,959.72 L1665.03,957.54 L1667.78,955.36 L1670.53,953.19 L1673.28,951.03 L1676.02,948.88 L1678.77,946.73 L1681.52,944.59 L1684.27,942.46 L1687.01,940.33 L1689.76,938.22 L1692.51,936.1 L1695.26,934 L1698.01,931.9 L1700.75,929.81 L1703.5,927.72 L1706.25,925.63 L1709,923.56 L1711.74,921.48 L1714.49,919.42 L1717.24,917.35 L1719.99,915.3 L1722.74,913.24 L1725.48,911.19 L1728.23,909.15 L1730.98,907.11 L1733.73,905.07 L1736.47,903.04 L1739.22,901.01 L1741.97,898.99 L1744.72,896.97 L1747.47,894.95 L1750.21,892.94 L1752.96,890.93 L1755.71,888.93 L1758.46,886.93 L1761.21,884.94 L1763.95,882.94 L1766.7,880.96 L1769.45,878.98 L1772.2,877 L1774.94,875.03 L1777.69,873.07 L1780.44,871.11 L1783.19,869.16 L1785.94,867.21 L1788.68,865.27 L1791.43,863.34 L1794.18,861.41 L1796.93,859.5 L1799.67,857.59 L1802.42,855.69 L1805.17,853.81 L1807.92,851.93 L1810.67,850.07 L1813.41,848.21 L1816.16,846.37 L1818.91,844.54 L1821.66,842.73 L1824.4,840.93 L1827.15,839.15 L1829.9,837.39" fill="none" stroke="#f00" stroke-width="8" stroke-linejoin="round" stroke-dasharray="13.2 38.87 16.5 41.41 16.5 38.52 16.5 35.62 16.5 37.28 16.5 36.52 16.5 35.6 16.5 34.78 16.5 39.23 16.5 30.98 15.34 5000" stroke-linecap="round" clip-path="url(#ib)"/>
<path d="M453,2751.8 L455.74,2752.04 L458.48,2752.21 L461.23,2752.31 L463.97,2752.33 L466.71,2752.29 L469.45,2752.18 L472.19,2751.99 L474.94,2751.74 L477.68,2751.43 L480.42,2751.04 L483.16,2750.6 L485.91,2750.08 L488.65,2749.51 L491.39,2748.87 L494.13,2748.17 L496.87,2747.42 L499.62,2746.6 L502.36,2745.72 L505.1,2744.78 L507.84,2743.79 L510.58,2742.74 L513.33,2741.64 L516.07,2740.48 L518.81,2739.27 L521.55,2738 L524.3,2736.68 L527.04,2735.32 L529.78,2733.9 L532.52,2732.43 L535.26,2730.91 L538.01,2729.34 L540.75,2727.73 L543.49,2726.07 L546.23,2724.37 L548.97,2722.62 L551.72,2720.83 L554.46,2718.99 L557.2,2717.11 L559.94,2715.19 L562.69,2713.23 L565.43,2711.23 L568.17,2709.19 L570.91,2707.11 L573.65,2705 L576.4,2702.85 L579.14,2700.66 L581.88,2698.43 L584.62,2696.18 L587.36,2693.88 L590.11,2691.56 L592.85,2689.2 L595.59,2686.81 L598.33,2684.39 L601.08,2681.94 L603.82,2679.46 L606.56,2676.95 L609.3,2674.42 L612.04,2671.85 L614.79,2669.26 L617.53,2666.65 L620.27,2664.01 L623.01,2661.34 L625.75,2658.66 L628.5,2655.95 L631.24,2653.21 L633.98,2650.46 L636.72,2647.68 L639.47,2644.89 L642.21,2642.07 L644.95,2639.24 L647.69,2636.39 L650.43,2633.52 L653.18,2630.63 L655.92,2627.73 L658.66,2624.81 L661.4,2621.88 L664.14,2618.93 L666.89,2615.97 L669.63,2613 L672.37,2610.02 L675.11,2607.02 L677.86,2604.02 L680.6,2601 L683.34,2597.97 L686.08,2594.94 L688.82,2591.89 L691.57,2588.84 L694.31,2585.79 L697.05,2582.72 L699.79,2579.65 L702.53,2576.58 L705.28,2573.5 L708.02,2570.41 L710.76,2567.32 L713.5,2564.23 L716.25,2561.14 L718.99,2558.05 L721.73,2554.95 L724.47,2551.86 L727.21,2548.76 L729.96,2545.67 L732.7,2542.57 L735.44,2539.48 L738.18,2536.4 L740.92,2533.31 L743.67,2530.23 L746.41,2527.15 L749.15,2524.08 L751.89,2521.01 L754.64,2517.95 L757.38,2514.89 L760.12,2511.84 L762.86,2508.8 L765.6,2505.76 L768.35,2502.74 L771.09,2499.72 L773.83,2496.72 L776.57,2493.72 L779.31,2490.73 L782.06,2487.76 L784.8,2484.79 L787.54,2481.84 L790.28,2478.9 L793.03,2475.98 L795.77,2473.06 L798.51,2470.16 L801.25,2467.28 L803.99,2464.41 L806.74,2461.56 L809.48,2458.72 L812.22,2455.9 L814.96,2453.09 L817.7,2450.31 L820.45,2447.54 L823.19,2444.79 L825.93,2442.05 L828.67,2439.34 L831.42,2436.65 L834.16,2433.97 L836.9,2431.32 L839.64,2428.69 L842.38,2426.08 L845.13,2423.49 L847.87,2420.92 L850.61,2418.38 L853.35,2415.86 L856.09,2413.36 L858.84,2410.89 L861.58,2408.44 L864.32,2406.02 L867.06,2403.62 L869.81,2401.25 L872.55,2398.9 L875.29,2396.58 L878.03,2394.28 L880.77,2392.02 L883.52,2389.78 L886.26,2387.57 L889,2385.38" fill="none" stroke="#f00" stroke-width="8" stroke-linejoin="round" stroke-dasharray="13.02 36.53 16.5 32.67 16.5 38.31 16.5 38.01 16.5 41.15 16.5 40.4 16.5 39.53 16.5 39.23 16.5 39.91 16.5 36.48 16.5 5000" stroke-linecap="round" clip-path="url(#ic)"/>
<path d="M453,2742.14 L455.74,2742 L458.48,2741.84 L461.23,2741.66 L463.97,2741.45 L466.71,2741.21 L469.45,2740.94 L472.19,2740.65 L474.94,2740.32 L477.68,2739.97 L480.42,2739.59 L483.16,2739.18 L485.91,2738.74 L488.65,2738.27 L491.39,2737.76 L494.13,2737.23 L496.87,2736.67 L499.62,2736.07 L502.36,2735.44 L505.1,2734.78 L507.84,2734.09 L510.58,2733.37 L513.33,2732.61 L516.07,2731.82 L518.81,2731 L521.55,2730.15 L524.3,2729.26 L527.04,2728.34 L529.78,2727.39 L532.52,2726.41 L535.26,2725.39 L538.01,2724.34 L540.75,2723.26 L543.49,2722.15 L546.23,2721.01 L548.97,2719.83 L551.72,2718.63 L554.46,2717.39 L557.2,2716.12 L559.94,2714.82 L562.69,2713.49 L565.43,2712.13 L568.17,2710.74 L570.91,2709.32 L573.65,2707.87 L576.4,2706.39 L579.14,2704.88 L581.88,2703.35 L584.62,2701.78 L587.36,2700.19 L590.11,2698.57 L592.85,2696.93 L595.59,2695.26 L598.33,2693.56 L601.08,2691.84 L603.82,2690.09 L606.56,2688.31 L609.3,2686.52 L612.04,2684.7 L614.79,2682.85 L617.53,2680.99 L620.27,2679.1 L623.01,2677.19 L625.75,2675.26 L628.5,2673.31 L631.24,2671.34 L633.98,2669.35 L636.72,2667.34 L639.47,2665.31 L642.21,2663.27 L644.95,2661.2 L647.69,2659.13 L650.43,2657.03 L653.18,2654.92 L655.92,2652.8 L658.66,2650.66 L661.4,2648.5 L664.14,2646.34 L666.89,2644.16 L669.63,2641.97 L672.37,2639.77 L675.11,2637.56 L677.86,2635.33 L680.6,2633.1 L683.34,2630.86 L686.08,2628.61 L688.82,2626.36 L691.57,2624.09 L694.31,2621.82 L697.05,2619.55 L699.79,2617.27 L702.53,2614.98 L705.28,2612.69 L708.02,2610.4 L710.76,2608.1 L713.5,2605.8 L716.25,2603.5 L718.99,2601.2 L721.73,2598.9 L724.47,2596.59 L727.21,2594.29 L729.96,2591.99 L732.7,2589.69 L735.44,2587.39 L738.18,2585.09 L740.92,2582.8 L743.67,2580.51 L746.41,2578.22 L749.15,2575.94 L751.89,2573.66 L754.64,2571.39 L757.38,2569.13 L760.12,2566.87 L762.86,2564.61 L765.6,2562.36 L768.35,2560.12 L771.09,2557.89 L773.83,2555.67 L776.57,2553.45 L779.31,2551.24 L782.06,2549.04 L784.8,2546.85 L787.54,2544.67 L790.28,2542.5 L793.03,2540.34 L795.77,2538.19 L798.51,2536.05 L801.25,2533.92 L803.99,2531.8 L806.74,2529.7 L809.48,2527.6 L812.22,2525.51 L814.96,2523.44 L817.7,2521.38 L820.45,2519.33 L823.19,2517.29 L825.93,2515.26 L828.67,2513.24 L831.42,2511.24 L834.16,2509.25 L836.9,2507.26 L839.64,2505.29 L842.38,2503.33 L845.13,2501.39 L847.87,2499.45 L850.61,2497.52 L853.35,2495.61 L856.09,2493.7 L858.84,2491.8 L861.58,2489.92 L864.32,2488.04 L867.06,2486.17 L869.81,2484.31 L872.55,2482.46 L875.29,2480.62 L878.03,2478.79 L880.77,2476.96 L883.52,2475.13 L886.26,2473.32 L889,2471.51" fill="none" stroke="#00f" stroke-width="7.6" stroke-linejoin="round" stroke-linecap="butt" clip-path="url(#ic)"/>
<path d="M1480,2681.02 L1482.92,2678.67 L1485.85,2676.32 L1488.77,2673.96 L1491.7,2671.6 L1494.62,2669.24 L1497.55,2666.87 L1500.47,2664.5 L1503.4,2662.13 L1506.32,2659.75 L1509.25,2657.37 L1512.17,2654.99 L1515.09,2652.6 L1518.02,2650.21 L1520.94,2647.82 L1523.87,2645.42 L1526.79,2643.02 L1529.72,2640.62 L1532.64,2638.21 L1535.57,2635.8 L1538.49,2633.39 L1541.42,2630.97 L1544.34,2628.55 L1547.26,2626.13 L1550.19,2623.7 L1553.11,2621.27 L1556.04,2618.83 L1558.96,2616.4 L1561.89,2613.96 L1564.81,2611.51 L1567.74,2609.06 L1570.66,2606.61 L1573.58,2604.16 L1576.51,2601.7 L1579.43,2599.24 L1582.36,2596.77 L1585.28,2594.3 L1588.21,2591.83 L1591.13,2589.35 L1594.06,2586.88 L1596.98,2584.39 L1599.91,2581.91 L1602.83,2579.42 L1605.75,2576.92 L1608.68,2574.43 L1611.6,2571.93 L1614.53,2569.42 L1617.45,2566.91 L1620.38,2564.4 L1623.3,2561.89 L1626.23,2559.37 L1629.15,2556.85 L1632.08,2554.32 L1635,2551.79 L1637.92,2549.26 L1640.85,2546.72 L1643.77,2544.19 L1646.7,2541.64 L1649.62,2539.09 L1652.55,2536.54 L1655.47,2533.99 L1658.4,2531.43 L1661.32,2528.87 L1664.25,2526.3 L1667.17,2523.74 L1670.09,2521.16 L1673.02,2518.59 L1675.94,2516.01 L1678.87,2513.42 L1681.79,2510.84 L1684.72,2508.24 L1687.64,2505.65 L1690.57,2503.05 L1693.49,2500.45 L1696.42,2497.84 L1699.34,2495.23 L1702.26,2492.62 L1705.19,2490 L1708.11,2487.38 L1711.04,2484.76 L1713.96,2482.13 L1716.89,2479.5 L1719.81,2476.86 L1722.74,2474.22 L1725.66,2471.58 L1728.58,2468.93 L1731.51,2466.28 L1734.43,2463.62 L1737.36,2460.97 L1740.28,2458.3 L1743.21,2455.64 L1746.13,2452.97 L1749.06,2450.29 L1751.98,2447.61 L1754.91,2444.93 L1757.83,2442.25 L1760.75,2439.56 L1763.68,2436.86 L1766.6,2434.17 L1769.53,2431.47 L1772.45,2428.76 L1775.38,2426.05 L1778.3,2423.34 L1781.23,2420.62 L1784.15,2417.9 L1787.08,2415.18 L1790,2412.45 L1792.92,2409.72 L1795.85,2406.98 L1798.77,2404.24 L1801.7,2401.5 L1804.62,2398.75 L1807.55,2396 L1810.47,2393.24 L1813.4,2390.48 L1816.32,2387.72 L1819.25,2384.95 L1822.17,2382.18 L1825.09,2379.4 L1828.02,2376.62 L1830.94,2373.84 L1833.87,2371.05 L1836.79,2368.26 L1839.72,2365.46 L1842.64,2362.66 L1845.57,2359.86 L1848.49,2357.05 L1851.42,2354.24 L1854.34,2351.42 L1857.26,2348.6 L1860.19,2345.78 L1863.11,2342.95 L1866.04,2340.12 L1868.96,2337.28 L1871.89,2334.44 L1874.81,2331.6 L1877.74,2328.75 L1880.66,2325.9 L1883.58,2323.04 L1886.51,2320.18 L1889.43,2317.31 L1892.36,2314.44 L1895.28,2311.57 L1898.21,2308.69 L1901.13,2305.81 L1904.06,2302.93 L1906.98,2300.04 L1909.91,2297.14 L1912.83,2294.24 L1915.75,2291.34 L1918.68,2288.43 L1921.6,2285.52 L1924.53,2282.61 L1927.45,2279.69 L1930.38,2276.76 L1933.3,2273.84 L1936.23,2270.91 L1939.15,2267.97 L1942.08,2265.03 L1945,2262.08" fill="none" stroke="#00f" stroke-width="7.6" stroke-linejoin="round" stroke-linecap="butt" clip-path="url(#id)"/>
<path d="M1480,2676.52 L1482.92,2674.18 L1485.85,2671.84 L1488.77,2669.49 L1491.7,2667.14 L1494.62,2664.79 L1497.55,2662.43 L1500.47,2660.07 L1503.4,2657.7 L1506.32,2655.34 L1509.25,2652.97 L1512.17,2650.59 L1515.09,2648.21 L1518.02,2645.83 L1520.94,2643.45 L1523.87,2641.06 L1526.79,2638.67 L1529.72,2636.28 L1532.64,2633.88 L1535.57,2631.48 L1538.49,2629.08 L1541.42,2626.67 L1544.34,2624.26 L1547.26,2621.84 L1550.19,2619.43 L1553.11,2617 L1556.04,2614.58 L1558.96,2612.15 L1561.89,2609.72 L1564.81,2607.28 L1567.74,2604.85 L1570.66,2602.4 L1573.58,2599.96 L1576.51,2597.51 L1579.43,2595.06 L1582.36,2592.6 L1585.28,2590.14 L1588.21,2587.68 L1591.13,2585.21 L1594.06,2582.74 L1596.98,2580.27 L1599.91,2577.79 L1602.83,2575.31 L1605.75,2572.83 L1608.68,2570.34 L1611.6,2567.85 L1614.53,2565.36 L1617.45,2562.86 L1620.38,2560.36 L1623.3,2557.85 L1626.23,2555.34 L1629.15,2552.83 L1632.08,2550.31 L1635,2547.79 L1637.92,2545.27 L1640.85,2542.74 L1643.77,2540.21 L1646.7,2537.68 L1649.62,2535.14 L1652.55,2532.6 L1655.47,2530.06 L1658.4,2527.51 L1661.32,2524.95 L1664.25,2522.4 L1667.17,2519.84 L1670.09,2517.28 L1673.02,2514.71 L1675.94,2512.14 L1678.87,2509.56 L1681.79,2506.99 L1684.72,2504.4 L1687.64,2501.82 L1690.57,2499.23 L1693.49,2496.64 L1696.42,2494.04 L1699.34,2491.44 L1702.26,2488.84 L1705.19,2486.23 L1708.11,2483.62 L1711.04,2481 L1713.96,2478.38 L1716.89,2475.76 L1719.81,2473.13 L1722.74,2470.5 L1725.66,2467.87 L1728.58,2465.23 L1731.51,2462.59 L1734.43,2459.94 L1737.36,2457.3 L1740.28,2454.64 L1743.21,2451.99 L1746.13,2449.32 L1749.06,2446.66 L1751.98,2443.99 L1754.91,2441.32 L1757.83,2438.64 L1760.75,2435.96 L1763.68,2433.28 L1766.6,2430.59 L1769.53,2427.9 L1772.45,2425.21 L1775.38,2422.51 L1778.3,2419.8 L1781.23,2417.1 L1784.15,2414.38 L1787.08,2411.67 L1790,2408.95 L1792.92,2406.23 L1795.85,2403.5 L1798.77,2400.77 L1801.7,2398.04 L1804.62,2395.3 L1807.55,2392.55 L1810.47,2389.81 L1813.4,2387.06 L1816.32,2384.3 L1819.25,2381.55 L1822.17,2378.78 L1825.09,2376.02 L1828.02,2373.25 L1830.94,2370.47 L1833.87,2367.69 L1836.79,2364.91 L1839.72,2362.12 L1842.64,2359.33 L1845.57,2356.54 L1848.49,2353.74 L1851.42,2350.94 L1854.34,2348.13 L1857.26,2345.32 L1860.19,2342.51 L1863.11,2339.69 L1866.04,2336.86 L1868.96,2334.04 L1871.89,2331.21 L1874.81,2328.37 L1877.74,2325.53 L1880.66,2322.69 L1883.58,2319.84 L1886.51,2316.99 L1889.43,2314.13 L1892.36,2311.27 L1895.28,2308.41 L1898.21,2305.54 L1901.13,2302.67 L1904.06,2299.79 L1906.98,2296.91 L1909.91,2294.03 L1912.83,2291.14 L1915.75,2288.25 L1918.68,2285.35 L1921.6,2282.45 L1924.53,2279.54 L1927.45,2276.63 L1930.38,2273.72 L1933.3,2270.8 L1936.23,2267.88 L1939.15,2264.95 L1942.08,2262.02 L1945,2259.08" fill="none" stroke="#f00" stroke-width="8" stroke-linejoin="round" stroke-dasharray="15.88 40.31 16.56 41.5 15.74 40.88 17 43.03 17.24 41.5 18.96 38.99 17.72 43.51 17.99 42.78 20.47 44.27 17.43 45.79 22.1 5000" stroke-linecap="round" clip-path="url(#id)"/>
<rect x="295.2" y="222.5" width="824.3" height="1180" fill="none" stroke="#000" stroke-width="6.6"/>
<line x1="295.2" y1="1402.5" x2="295.2" y2="1434.8" stroke="#000" stroke-width="6.6" stroke-linecap="butt"/>
<line x1="295.2" y1="222.5" x2="295.2" y2="254.8" stroke="#000" stroke-width="6.6" stroke-linecap="butt"/>
<line x1="363.89" y1="1402.5" x2="363.89" y2="1418.8" stroke="#000" stroke-width="6.6" stroke-linecap="butt"/>
<line x1="363.89" y1="222.5" x2="363.89" y2="238.8" stroke="#000" stroke-width="6.6" stroke-linecap="butt"/>
<line x1="432.58" y1="1402.5" x2="432.58" y2="1434.8" stroke="#000" stroke-width="6.6" stroke-linecap="butt"/>
<line x1="432.58" y1="222.5" x2="432.58" y2="254.8" stroke="#000" stroke-width="6.6" stroke-linecap="butt"/>
<line x1="501.27" y1="1402.5" x2="501.27" y2="1418.8" stroke="#000" stroke-width="6.6" stroke-linecap="butt"/>
<line x1="501.27" y1="222.5" x2="501.27" y2="238.8" stroke="#000" stroke-width="6.6" stroke-linecap="butt"/>
<line x1="569.97" y1="1402.5" x2="569.97" y2="1434.8" stroke="#000" stroke-width="6.6" stroke-linecap="butt"/>
<line x1="569.97" y1="222.5" x2="569.97" y2="254.8" stroke="#000" stroke-width="6.6" stroke-linecap="butt"/>
<line x1="638.66" y1="1402.5" x2="638.66" y2="1418.8" stroke="#000" stroke-width="6.6" stroke-linecap="butt"/>
<line x1="638.66" y1="222.5" x2="638.66" y2="238.8" stroke="#000" stroke-width="6.6" stroke-linecap="butt"/>
<line x1="707.35" y1="1402.5" x2="707.35" y2="1434.8" stroke="#000" stroke-width="6.6" stroke-linecap="butt"/>
<line x1="707.35" y1="222.5" x2="707.35" y2="254.8" stroke="#000" stroke-width="6.6" stroke-linecap="butt"/>
<line x1="776.04" y1="1402.5" x2="776.04" y2="1418.8" stroke="#000" stroke-width="6.6" stroke-linecap="butt"/>
<line x1="776.04" y1="222.5" x2="776.04" y2="238.8" stroke="#000" stroke-width="6.6" stroke-linecap="butt"/>
<line x1="844.73" y1="1402.5" x2="844.73" y2="1434.8" stroke="#000" stroke-width="6.6" stroke-linecap="butt"/>
<line x1="844.73" y1="222.5" x2="844.73" y2="254.8" stroke="#000" stroke-width="6.6" stroke-linecap="butt"/>
<line x1="913.42" y1="1402.5" x2="913.42" y2="1418.8" stroke="#000" stroke-width="6.6" stroke-linecap="butt"/>
<line x1="913.42" y1="222.5" x2="913.42" y2="238.8" stroke="#000" stroke-width="6.6" stroke-linecap="butt"/>
<line x1="982.12" y1="1402.5" x2="982.12" y2="1434.8" stroke="#000" stroke-width="6.6" stroke-linecap="butt"/>
<line x1="982.12" y1="222.5" x2="982.12" y2="254.8" stroke="#000" stroke-width="6.6" stroke-linecap="butt"/>
<line x1="1050.81" y1="1402.5" x2="1050.81" y2="1418.8" stroke="#000" stroke-width="6.6" stroke-linecap="butt"/>
<line x1="1050.81" y1="222.5" x2="1050.81" y2="238.8" stroke="#000" stroke-width="6.6" stroke-linecap="butt"/>
<line x1="1119.5" y1="1402.5" x2="1119.5" y2="1434.8" stroke="#000" stroke-width="6.6" stroke-linecap="butt"/>
<line x1="1119.5" y1="222.5" x2="1119.5" y2="254.8" stroke="#000" stroke-width="6.6" stroke-linecap="butt"/>
<line x1="262.9" y1="1402.5" x2="295.2" y2="1402.5" stroke="#000" stroke-width="6.6" stroke-linecap="butt"/>
<line x1="1087.2" y1="1402.5" x2="1119.5" y2="1402.5" stroke="#000" stroke-width="6.6" stroke-linecap="butt"/>
<line x1="278.9" y1="1318.21" x2="295.2" y2="1318.21" stroke="#000" stroke-width="6.6" stroke-linecap="butt"/>
<line x1="1103.2" y1="1318.21" x2="1119.5" y2="1318.21" stroke="#000" stroke-width="6.6" stroke-linecap="butt"/>
<line x1="262.9" y1="1233.93" x2="295.2" y2="1233.93" stroke="#000" stroke-width="6.6" stroke-linecap="butt"/>
<line x1="1087.2" y1="1233.93" x2="1119.5" y2="1233.93" stroke="#000" stroke-width="6.6" stroke-linecap="butt"/>
<line x1="278.9" y1="1149.64" x2="295.2" y2="1149.64" stroke="#000" stroke-width="6.6" stroke-linecap="butt"/>
<line x1="1103.2" y1="1149.64" x2="1119.5" y2="1149.64" stroke="#000" stroke-width="6.6" stroke-linecap="butt"/>
<line x1="262.9" y1="1065.36" x2="295.2" y2="1065.36" stroke="#000" stroke-width="6.6" stroke-linecap="butt"/>
<line x1="1087.2" y1="1065.36" x2="1119.5" y2="1065.36" stroke="#000" stroke-width="6.6" stroke-linecap="butt"/>
<line x1="278.9" y1="981.07" x2="295.2" y2="981.07" stroke="#000" stroke-width="6.6" stroke-linecap="butt"/>
<line x1="1103.2" y1="981.07" x2="1119.5" y2="981.07" stroke="#000" stroke-width="6.6" stroke-linecap="butt"/>
<line x1="262.9" y1="896.79" x2="295.2" y2="896.79" stroke="#000" stroke-width="6.6" stroke-linecap="butt"/>
<line x1="1087.2" y1="896.79" x2="1119.5" y2="896.79" stroke="#000" stroke-width="6.6" stroke-linecap="butt"/>
<line x1="278.9" y1="812.5" x2="295.2" y2="812.5" stroke="#000" stroke-width="6.6" stroke-linecap="butt"/>
<line x1="1103.2" y1="812.5" x2="1119.5" y2="812.5" stroke="#000" stroke-width="6.6" stroke-linecap="butt"/>
<line x1="262.9" y1="728.21" x2="295.2" y2="728.21" stroke="#000" stroke-width="6.6" stroke-linecap="butt"/>
<line x1="1087.2" y1="728.21" x2="1119.5" y2="728.21" stroke="#000" stroke-width="6.6" stroke-linecap="butt"/>
<line x1="278.9" y1="643.93" x2="295.2" y2="643.93" stroke="#000" stroke-width="6.6" stroke-linecap="butt"/>
<line x1="1103.2" y1="643.93" x2="1119.5" y2="643.93" stroke="#000" stroke-width="6.6" stroke-linecap="butt"/>
<line x1="262.9" y1="559.64" x2="295.2" y2="559.64" stroke="#000" stroke-width="6.6" stroke-linecap="butt"/>
<line x1="1087.2" y1="559.64" x2="1119.5" y2="559.64" stroke="#000" stroke-width="6.6" stroke-linecap="butt"/>
<line x1="278.9" y1="475.36" x2="295.2" y2="475.36" stroke="#000" stroke-width="6.6" stroke-linecap="butt"/>
<line x1="1103.2" y1="475.36" x2="1119.5" y2="475.36" stroke="#000" stroke-width="6.6" stroke-linecap="butt"/>
<line x1="262.9" y1="391.07" x2="295.2" y2="391.07" stroke="#000" stroke-width="6.6" stroke-linecap="butt"/>
<line x1="1087.2" y1="391.07" x2="1119.5" y2="391.07" stroke="#000" stroke-width="6.6" stroke-linecap="butt"/>
<line x1="278.9" y1="306.79" x2="295.2" y2="306.79" stroke="#000" stroke-width="6.6" stroke-linecap="butt"/>
<line x1="1103.2" y1="306.79" x2="1119.5" y2="306.79" stroke="#000" stroke-width="6.6" stroke-linecap="butt"/>
<line x1="262.9" y1="222.5" x2="295.2" y2="222.5" stroke="#000" stroke-width="6.6" stroke-linecap="butt"/>
<line x1="1087.2" y1="222.5" x2="1119.5" y2="222.5" stroke="#000" stroke-width="6.6" stroke-linecap="butt"/>
<text transform="translate(240.7,1422.5) scale(1,1.03)" font-size="71" text-anchor="end">3</text>
<text transform="translate(240.7,1253.93) scale(1,1.03)" font-size="71" text-anchor="end">4</text>
<text transform="translate(240.7,1085.36) scale(1,1.03)" font-size="71" text-anchor="end">5</text>
<text transform="translate(240.7,916.79) scale(1,1.03)" font-size="71" text-anchor="end">6</text>
<text transform="translate(240.7,748.21) scale(1,1.03)" font-size="71" text-anchor="end">7</text>
<text transform="translate(240.7,579.64) scale(1,1.03)" font-size="71" text-anchor="end">8</text>
<text transform="translate(240.7,411.07) scale(1,1.03)" font-size="71" text-anchor="end">9</text>
<text transform="translate(240.7,242.5) scale(1,1.03)" font-size="71" text-anchor="end">10</text>
<text transform="translate(295.2,1511.3) scale(1,1.03)" font-size="71" text-anchor="middle">0</text>
<text transform="translate(432.58,1511.3) scale(1,1.03)" font-size="71" text-anchor="middle">5</text>
<text transform="translate(569.97,1511.3) scale(1,1.03)" font-size="71" text-anchor="middle">10</text>
<text transform="translate(707.35,1511.3) scale(1,1.03)" font-size="71" text-anchor="middle">15</text>
<text transform="translate(844.73,1511.3) scale(1,1.03)" font-size="71" text-anchor="middle">20</text>
<text transform="translate(982.12,1511.3) scale(1,1.03)" font-size="71" text-anchor="middle">25</text>
<text transform="translate(1119.5,1511.3) scale(1,1.03)" font-size="71" text-anchor="middle">30</text>
<rect x="1278.3" y="222.5" width="824.7" height="1180" fill="none" stroke="#000" stroke-width="6.6"/>
<line x1="1278.3" y1="1402.5" x2="1278.3" y2="1434.8" stroke="#000" stroke-width="6.6" stroke-linecap="butt"/>
<line x1="1278.3" y1="222.5" x2="1278.3" y2="254.8" stroke="#000" stroke-width="6.6" stroke-linecap="butt"/>
<line x1="1360.77" y1="1402.5" x2="1360.77" y2="1418.8" stroke="#000" stroke-width="6.6" stroke-linecap="butt"/>
<line x1="1360.77" y1="222.5" x2="1360.77" y2="238.8" stroke="#000" stroke-width="6.6" stroke-linecap="butt"/>
<line x1="1443.24" y1="1402.5" x2="1443.24" y2="1434.8" stroke="#000" stroke-width="6.6" stroke-linecap="butt"/>
<line x1="1443.24" y1="222.5" x2="1443.24" y2="254.8" stroke="#000" stroke-width="6.6" stroke-linecap="butt"/>
<line x1="1525.71" y1="1402.5" x2="1525.71" y2="1418.8" stroke="#000" stroke-width="6.6" stroke-linecap="butt"/>
<line x1="1525.71" y1="222.5" x2="1525.71" y2="238.8" stroke="#000" stroke-width="6.6" stroke-linecap="butt"/>
<line x1="1608.18" y1="1402.5" x2="1608.18" y2="1434.8" stroke="#000" stroke-width="6.6" stroke-linecap="butt"/>
<line x1="1608.18" y1="222.5" x2="1608.18" y2="254.8" stroke="#000" stroke-width="6.6" stroke-linecap="butt"/>
<line x1="1690.65" y1="1402.5" x2="1690.65" y2="1418.8" stroke="#000" stroke-width="6.6" stroke-linecap="butt"/>
<line x1="1690.65" y1="222.5" x2="1690.65" y2="238.8" stroke="#000" stroke-width="6.6" stroke-linecap="butt"/>
<line x1="1773.12" y1="1402.5" x2="1773.12" y2="1434.8" stroke="#000" stroke-width="6.6" stroke-linecap="butt"/>
<line x1="1773.12" y1="222.5" x2="1773.12" y2="254.8" stroke="#000" stroke-width="6.6" stroke-linecap="butt"/>
<line x1="1855.59" y1="1402.5" x2="1855.59" y2="1418.8" stroke="#000" stroke-width="6.6" stroke-linecap="butt"/>
<line x1="1855.59" y1="222.5" x2="1855.59" y2="238.8" stroke="#000" stroke-width="6.6" stroke-linecap="butt"/>
<line x1="1938.06" y1="1402.5" x2="1938.06" y2="1434.8" stroke="#000" stroke-width="6.6" stroke-linecap="butt"/>
<line x1="1938.06" y1="222.5" x2="1938.06" y2="254.8" stroke="#000" stroke-width="6.6" stroke-linecap="butt"/>
<line x1="2020.53" y1="1402.5" x2="2020.53" y2="1418.8" stroke="#000" stroke-width="6.6" stroke-linecap="butt"/>
<line x1="2020.53" y1="222.5" x2="2020.53" y2="238.8" stroke="#000" stroke-width="6.6" stroke-linecap="butt"/>
<line x1="2103" y1="1402.5" x2="2103" y2="1434.8" stroke="#000" stroke-width="6.6" stroke-linecap="butt"/>
<line x1="2103" y1="222.5" x2="2103" y2="254.8" stroke="#000" stroke-width="6.6" stroke-linecap="butt"/>
<line x1="1246" y1="1402.5" x2="1278.3" y2="1402.5" stroke="#000" stroke-width="6.6" stroke-linecap="butt"/>
<line x1="2070.7" y1="1402.5" x2="2103" y2="1402.5" stroke="#000" stroke-width="6.6" stroke-linecap="butt"/>
<line x1="1262" y1="1318.21" x2="1278.3" y2="1318.21" stroke="#000" stroke-width="6.6" stroke-linecap="butt"/>
<line x1="2086.7" y1="1318.21" x2="2103" y2="1318.21" stroke="#000" stroke-width="6.6" stroke-linecap="butt"/>
<line x1="1246" y1="1233.93" x2="1278.3" y2="1233.93" stroke="#000" stroke-width="6.6" stroke-linecap="butt"/>
<line x1="2070.7" y1="1233.93" x2="2103" y2="1233.93" stroke="#000" stroke-width="6.6" stroke-linecap="butt"/>
<line x1="1262" y1="1149.64" x2="1278.3" y2="1149.64" stroke="#000" stroke-width="6.6" stroke-linecap="butt"/>
<line x1="2086.7" y1="1149.64" x2="2103" y2="1149.64" stroke="#000" stroke-width="6.6" stroke-linecap="butt"/>
<line x1="1246" y1="1065.36" x2="1278.3" y2="1065.36" stroke="#000" stroke-width="6.6" stroke-linecap="butt"/>
<line x1="2070.7" y1="1065.36" x2="2103" y2="1065.36" stroke="#000" stroke-width="6.6" stroke-linecap="butt"/>
<line x1="1262" y1="981.07" x2="1278.3" y2="981.07" stroke="#000" stroke-width="6.6" stroke-linecap="butt"/>
<line x1="2086.7" y1="981.07" x2="2103" y2="981.07" stroke="#000" stroke-width="6.6" stroke-linecap="butt"/>
<line x1="1246" y1="896.79" x2="1278.3" y2="896.79" stroke="#000" stroke-width="6.6" stroke-linecap="butt"/>
<line x1="2070.7" y1="896.79" x2="2103" y2="896.79" stroke="#000" stroke-width="6.6" stroke-linecap="butt"/>
<line x1="1262" y1="812.5" x2="1278.3" y2="812.5" stroke="#000" stroke-width="6.6" stroke-linecap="butt"/>
<line x1="2086.7" y1="812.5" x2="2103" y2="812.5" stroke="#000" stroke-width="6.6" stroke-linecap="butt"/>
<line x1="1246" y1="728.21" x2="1278.3" y2="728.21" stroke="#000" stroke-width="6.6" stroke-linecap="butt"/>
<line x1="2070.7" y1="728.21" x2="2103" y2="728.21" stroke="#000" stroke-width="6.6" stroke-linecap="butt"/>
<line x1="1262" y1="643.93" x2="1278.3" y2="643.93" stroke="#000" stroke-width="6.6" stroke-linecap="butt"/>
<line x1="2086.7" y1="643.93" x2="2103" y2="643.93" stroke="#000" stroke-width="6.6" stroke-linecap="butt"/>
<line x1="1246" y1="559.64" x2="1278.3" y2="559.64" stroke="#000" stroke-width="6.6" stroke-linecap="butt"/>
<line x1="2070.7" y1="559.64" x2="2103" y2="559.64" stroke="#000" stroke-width="6.6" stroke-linecap="butt"/>
<line x1="1262" y1="475.36" x2="1278.3" y2="475.36" stroke="#000" stroke-width="6.6" stroke-linecap="butt"/>
<line x1="2086.7" y1="475.36" x2="2103" y2="475.36" stroke="#000" stroke-width="6.6" stroke-linecap="butt"/>
<line x1="1246" y1="391.07" x2="1278.3" y2="391.07" stroke="#000" stroke-width="6.6" stroke-linecap="butt"/>
<line x1="2070.7" y1="391.07" x2="2103" y2="391.07" stroke="#000" stroke-width="6.6" stroke-linecap="butt"/>
<line x1="1262" y1="306.79" x2="1278.3" y2="306.79" stroke="#000" stroke-width="6.6" stroke-linecap="butt"/>
<line x1="2086.7" y1="306.79" x2="2103" y2="306.79" stroke="#000" stroke-width="6.6" stroke-linecap="butt"/>
<line x1="1246" y1="222.5" x2="1278.3" y2="222.5" stroke="#000" stroke-width="6.6" stroke-linecap="butt"/>
<line x1="2070.7" y1="222.5" x2="2103" y2="222.5" stroke="#000" stroke-width="6.6" stroke-linecap="butt"/>
<text transform="translate(1223.8,1422.5) scale(1,1.03)" font-size="71" text-anchor="end">3</text>
<text transform="translate(1223.8,1253.93) scale(1,1.03)" font-size="71" text-anchor="end">4</text>
<text transform="translate(1223.8,1085.36) scale(1,1.03)" font-size="71" text-anchor="end">5</text>
<text transform="translate(1223.8,916.79) scale(1,1.03)" font-size="71" text-anchor="end">6</text>
<text transform="translate(1223.8,748.21) scale(1,1.03)" font-size="71" text-anchor="end">7</text>
<text transform="translate(1223.8,579.64) scale(1,1.03)" font-size="71" text-anchor="end">8</text>
<text transform="translate(1223.8,411.07) scale(1,1.03)" font-size="71" text-anchor="end">9</text>
<text transform="translate(1223.8,242.5) scale(1,1.03)" font-size="71" text-anchor="end">10</text>
<text transform="translate(1278.3,1511.3) scale(1,1.03)" font-size="71" text-anchor="middle">0</text>
<text transform="translate(1443.24,1511.3) scale(1,1.03)" font-size="71" text-anchor="middle">2</text>
<text transform="translate(1608.18,1511.3) scale(1,1.03)" font-size="71" text-anchor="middle">4</text>
<text transform="translate(1773.12,1511.3) scale(1,1.03)" font-size="71" text-anchor="middle">6</text>
<text transform="translate(1938.06,1511.3) scale(1,1.03)" font-size="71" text-anchor="middle">8</text>
<text transform="translate(2103,1511.3) scale(1,1.03)" font-size="71" text-anchor="middle">10</text>
<rect x="296.5" y="1727.5" width="821.5" height="1178" fill="none" stroke="#000" stroke-width="6.6"/>
<line x1="296.5" y1="2905.5" x2="296.5" y2="2937.8" stroke="#000" stroke-width="6.6" stroke-linecap="butt"/>
<line x1="296.5" y1="1727.5" x2="296.5" y2="1759.8" stroke="#000" stroke-width="6.6" stroke-linecap="butt"/>
<line x1="364.96" y1="2905.5" x2="364.96" y2="2921.8" stroke="#000" stroke-width="6.6" stroke-linecap="butt"/>
<line x1="364.96" y1="1727.5" x2="364.96" y2="1743.8" stroke="#000" stroke-width="6.6" stroke-linecap="butt"/>
<line x1="433.42" y1="2905.5" x2="433.42" y2="2937.8" stroke="#000" stroke-width="6.6" stroke-linecap="butt"/>
<line x1="433.42" y1="1727.5" x2="433.42" y2="1759.8" stroke="#000" stroke-width="6.6" stroke-linecap="butt"/>
<line x1="501.88" y1="2905.5" x2="501.88" y2="2921.8" stroke="#000" stroke-width="6.6" stroke-linecap="butt"/>
<line x1="501.88" y1="1727.5" x2="501.88" y2="1743.8" stroke="#000" stroke-width="6.6" stroke-linecap="butt"/>
<line x1="570.33" y1="2905.5" x2="570.33" y2="2937.8" stroke="#000" stroke-width="6.6" stroke-linecap="butt"/>
<line x1="570.33" y1="1727.5" x2="570.33" y2="1759.8" stroke="#000" stroke-width="6.6" stroke-linecap="butt"/>
<line x1="638.79" y1="2905.5" x2="638.79" y2="2921.8" stroke="#000" stroke-width="6.6" stroke-linecap="butt"/>
<line x1="638.79" y1="1727.5" x2="638.79" y2="1743.8" stroke="#000" stroke-width="6.6" stroke-linecap="butt"/>
<line x1="707.25" y1="2905.5" x2="707.25" y2="2937.8" stroke="#000" stroke-width="6.6" stroke-linecap="butt"/>
<line x1="707.25" y1="1727.5" x2="707.25" y2="1759.8" stroke="#000" stroke-width="6.6" stroke-linecap="butt"/>
<line x1="775.71" y1="2905.5" x2="775.71" y2="2921.8" stroke="#000" stroke-width="6.6" stroke-linecap="butt"/>
<line x1="775.71" y1="1727.5" x2="775.71" y2="1743.8" stroke="#000" stroke-width="6.6" stroke-linecap="butt"/>
<line x1="844.17" y1="2905.5" x2="844.17" y2="2937.8" stroke="#000" stroke-width="6.6" stroke-linecap="butt"/>
<line x1="844.17" y1="1727.5" x2="844.17" y2="1759.8" stroke="#000" stroke-width="6.6" stroke-linecap="butt"/>
<line x1="912.62" y1="2905.5" x2="912.62" y2="2921.8" stroke="#000" stroke-width="6.6" stroke-linecap="butt"/>
<line x1="912.62" y1="1727.5" x2="912.62" y2="1743.8" stroke="#000" stroke-width="6.6" stroke-linecap="butt"/>
<line x1="981.08" y1="2905.5" x2="981.08" y2="2937.8" stroke="#000" stroke-width="6.6" stroke-linecap="butt"/>
<line x1="981.08" y1="1727.5" x2="981.08" y2="1759.8" stroke="#000" stroke-width="6.6" stroke-linecap="butt"/>
<line x1="1049.54" y1="2905.5" x2="1049.54" y2="2921.8" stroke="#000" stroke-width="6.6" stroke-linecap="butt"/>
<line x1="1049.54" y1="1727.5" x2="1049.54" y2="1743.8" stroke="#000" stroke-width="6.6" stroke-linecap="butt"/>
<line x1="1118" y1="2905.5" x2="1118" y2="2937.8" stroke="#000" stroke-width="6.6" stroke-linecap="butt"/>
<line x1="1118" y1="1727.5" x2="1118" y2="1759.8" stroke="#000" stroke-width="6.6" stroke-linecap="butt"/>
<line x1="264.2" y1="2905.5" x2="296.5" y2="2905.5" stroke="#000" stroke-width="6.6" stroke-linecap="butt"/>
<line x1="1085.7" y1="2905.5" x2="1118" y2="2905.5" stroke="#000" stroke-width="6.6" stroke-linecap="butt"/>
<line x1="280.2" y1="2821.36" x2="296.5" y2="2821.36" stroke="#000" stroke-width="6.6" stroke-linecap="butt"/>
<line x1="1101.7" y1="2821.36" x2="1118" y2="2821.36" stroke="#000" stroke-width="6.6" stroke-linecap="butt"/>
<line x1="264.2" y1="2737.21" x2="296.5" y2="2737.21" stroke="#000" stroke-width="6.6" stroke-linecap="butt"/>
<line x1="1085.7" y1="2737.21" x2="1118" y2="2737.21" stroke="#000" stroke-width="6.6" stroke-linecap="butt"/>
<line x1="280.2" y1="2653.07" x2="296.5" y2="2653.07" stroke="#000" stroke-width="6.6" stroke-linecap="butt"/>
<line x1="1101.7" y1="2653.07" x2="1118" y2="2653.07" stroke="#000" stroke-width="6.6" stroke-linecap="butt"/>
<line x1="264.2" y1="2568.93" x2="296.5" y2="2568.93" stroke="#000" stroke-width="6.6" stroke-linecap="butt"/>
<line x1="1085.7" y1="2568.93" x2="1118" y2="2568.93" stroke="#000" stroke-width="6.6" stroke-linecap="butt"/>
<line x1="280.2" y1="2484.79" x2="296.5" y2="2484.79" stroke="#000" stroke-width="6.6" stroke-linecap="butt"/>
<line x1="1101.7" y1="2484.79" x2="1118" y2="2484.79" stroke="#000" stroke-width="6.6" stroke-linecap="butt"/>
<line x1="264.2" y1="2400.64" x2="296.5" y2="2400.64" stroke="#000" stroke-width="6.6" stroke-linecap="butt"/>
<line x1="1085.7" y1="2400.64" x2="1118" y2="2400.64" stroke="#000" stroke-width="6.6" stroke-linecap="butt"/>
<line x1="280.2" y1="2316.5" x2="296.5" y2="2316.5" stroke="#000" stroke-width="6.6" stroke-linecap="butt"/>
<line x1="1101.7" y1="2316.5" x2="1118" y2="2316.5" stroke="#000" stroke-width="6.6" stroke-linecap="butt"/>
<line x1="264.2" y1="2232.36" x2="296.5" y2="2232.36" stroke="#000" stroke-width="6.6" stroke-linecap="butt"/>
<line x1="1085.7" y1="2232.36" x2="1118" y2="2232.36" stroke="#000" stroke-width="6.6" stroke-linecap="butt"/>
<line x1="280.2" y1="2148.21" x2="296.5" y2="2148.21" stroke="#000" stroke-width="6.6" stroke-linecap="butt"/>
<line x1="1101.7" y1="2148.21" x2="1118" y2="2148.21" stroke="#000" stroke-width="6.6" stroke-linecap="butt"/>
<line x1="264.2" y1="2064.07" x2="296.5" y2="2064.07" stroke="#000" stroke-width="6.6" stroke-linecap="butt"/>
<line x1="1085.7" y1="2064.07" x2="1118" y2="2064.07" stroke="#000" stroke-width="6.6" stroke-linecap="butt"/>
<line x1="280.2" y1="1979.93" x2="296.5" y2="1979.93" stroke="#000" stroke-width="6.6" stroke-linecap="butt"/>
<line x1="1101.7" y1="1979.93" x2="1118" y2="1979.93" stroke="#000" stroke-width="6.6" stroke-linecap="butt"/>
<line x1="264.2" y1="1895.79" x2="296.5" y2="1895.79" stroke="#000" stroke-width="6.6" stroke-linecap="butt"/>
<line x1="1085.7" y1="1895.79" x2="1118" y2="1895.79" stroke="#000" stroke-width="6.6" stroke-linecap="butt"/>
<line x1="280.2" y1="1811.64" x2="296.5" y2="1811.64" stroke="#000" stroke-width="6.6" stroke-linecap="butt"/>
<line x1="1101.7" y1="1811.64" x2="1118" y2="1811.64" stroke="#000" stroke-width="6.6" stroke-linecap="butt"/>
<line x1="264.2" y1="1727.5" x2="296.5" y2="1727.5" stroke="#000" stroke-width="6.6" stroke-linecap="butt"/>
<line x1="1085.7" y1="1727.5" x2="1118" y2="1727.5" stroke="#000" stroke-width="6.6" stroke-linecap="butt"/>
<text transform="translate(241.8,2925.5) scale(1,1.03)" font-size="71" text-anchor="end">3</text>
<text transform="translate(241.8,2757.21) scale(1,1.03)" font-size="71" text-anchor="end">4</text>
<text transform="translate(241.8,2588.93) scale(1,1.03)" font-size="71" text-anchor="end">5</text>
<text transform="translate(241.8,2420.64) scale(1,1.03)" font-size="71" text-anchor="end">6</text>
<text transform="translate(241.8,2252.36) scale(1,1.03)" font-size="71" text-anchor="end">7</text>
<text transform="translate(241.8,2084.07) scale(1,1.03)" font-size="71" text-anchor="end">8</text>
<text transform="translate(241.8,1915.79) scale(1,1.03)" font-size="71" text-anchor="end">9</text>
<text transform="translate(241.8,1747.5) scale(1,1.03)" font-size="71" text-anchor="end">10</text>
<text transform="translate(296.5,3014.3) scale(1,1.03)" font-size="71" text-anchor="middle">0</text>
<text transform="translate(433.42,3014.3) scale(1,1.03)" font-size="71" text-anchor="middle">5</text>
<text transform="translate(570.33,3014.3) scale(1,1.03)" font-size="71" text-anchor="middle">10</text>
<text transform="translate(707.25,3014.3) scale(1,1.03)" font-size="71" text-anchor="middle">15</text>
<text transform="translate(844.17,3014.3) scale(1,1.03)" font-size="71" text-anchor="middle">20</text>
<text transform="translate(981.08,3014.3) scale(1,1.03)" font-size="71" text-anchor="middle">25</text>
<text transform="translate(1118,3014.3) scale(1,1.03)" font-size="71" text-anchor="middle">30</text>
<rect x="1277.7" y="1724.5" width="824.3" height="1180.5" fill="none" stroke="#000" stroke-width="6.6"/>
<line x1="1277.7" y1="2905" x2="1277.7" y2="2937.3" stroke="#000" stroke-width="6.6" stroke-linecap="butt"/>
<line x1="1277.7" y1="1724.5" x2="1277.7" y2="1756.8" stroke="#000" stroke-width="6.6" stroke-linecap="butt"/>
<line x1="1380.74" y1="2905" x2="1380.74" y2="2921.3" stroke="#000" stroke-width="6.6" stroke-linecap="butt"/>
<line x1="1380.74" y1="1724.5" x2="1380.74" y2="1740.8" stroke="#000" stroke-width="6.6" stroke-linecap="butt"/>
<line x1="1483.78" y1="2905" x2="1483.78" y2="2937.3" stroke="#000" stroke-width="6.6" stroke-linecap="butt"/>
<line x1="1483.78" y1="1724.5" x2="1483.78" y2="1756.8" stroke="#000" stroke-width="6.6" stroke-linecap="butt"/>
<line x1="1586.81" y1="2905" x2="1586.81" y2="2921.3" stroke="#000" stroke-width="6.6" stroke-linecap="butt"/>
<line x1="1586.81" y1="1724.5" x2="1586.81" y2="1740.8" stroke="#000" stroke-width="6.6" stroke-linecap="butt"/>
<line x1="1689.85" y1="2905" x2="1689.85" y2="2937.3" stroke="#000" stroke-width="6.6" stroke-linecap="butt"/>
<line x1="1689.85" y1="1724.5" x2="1689.85" y2="1756.8" stroke="#000" stroke-width="6.6" stroke-linecap="butt"/>
<line x1="1792.89" y1="2905" x2="1792.89" y2="2921.3" stroke="#000" stroke-width="6.6" stroke-linecap="butt"/>
<line x1="1792.89" y1="1724.5" x2="1792.89" y2="1740.8" stroke="#000" stroke-width="6.6" stroke-linecap="butt"/>
<line x1="1895.92" y1="2905" x2="1895.92" y2="2937.3" stroke="#000" stroke-width="6.6" stroke-linecap="butt"/>
<line x1="1895.92" y1="1724.5" x2="1895.92" y2="1756.8" stroke="#000" stroke-width="6.6" stroke-linecap="butt"/>
<line x1="1998.96" y1="2905" x2="1998.96" y2="2921.3" stroke="#000" stroke-width="6.6" stroke-linecap="butt"/>
<line x1="1998.96" y1="1724.5" x2="1998.96" y2="1740.8" stroke="#000" stroke-width="6.6" stroke-linecap="butt"/>
<line x1="2102" y1="2905" x2="2102" y2="2937.3" stroke="#000" stroke-width="6.6" stroke-linecap="butt"/>
<line x1="2102" y1="1724.5" x2="2102" y2="1756.8" stroke="#000" stroke-width="6.6" stroke-linecap="butt"/>
<line x1="1245.4" y1="2905" x2="1277.7" y2="2905" stroke="#000" stroke-width="6.6" stroke-linecap="butt"/>
<line x1="2069.7" y1="2905" x2="2102" y2="2905" stroke="#000" stroke-width="6.6" stroke-linecap="butt"/>
<line x1="1261.4" y1="2820.68" x2="1277.7" y2="2820.68" stroke="#000" stroke-width="6.6" stroke-linecap="butt"/>
<line x1="2085.7" y1="2820.68" x2="2102" y2="2820.68" stroke="#000" stroke-width="6.6" stroke-linecap="butt"/>
<line x1="1245.4" y1="2736.36" x2="1277.7" y2="2736.36" stroke="#000" stroke-width="6.6" stroke-linecap="butt"/>
<line x1="2069.7" y1="2736.36" x2="2102" y2="2736.36" stroke="#000" stroke-width="6.6" stroke-linecap="butt"/>
<line x1="1261.4" y1="2652.04" x2="1277.7" y2="2652.04" stroke="#000" stroke-width="6.6" stroke-linecap="butt"/>
<line x1="2085.7" y1="2652.04" x2="2102" y2="2652.04" stroke="#000" stroke-width="6.6" stroke-linecap="butt"/>
<line x1="1245.4" y1="2567.71" x2="1277.7" y2="2567.71" stroke="#000" stroke-width="6.6" stroke-linecap="butt"/>
<line x1="2069.7" y1="2567.71" x2="2102" y2="2567.71" stroke="#000" stroke-width="6.6" stroke-linecap="butt"/>
<line x1="1261.4" y1="2483.39" x2="1277.7" y2="2483.39" stroke="#000" stroke-width="6.6" stroke-linecap="butt"/>
<line x1="2085.7" y1="2483.39" x2="2102" y2="2483.39" stroke="#000" stroke-width="6.6" stroke-linecap="butt"/>
<line x1="1245.4" y1="2399.07" x2="1277.7" y2="2399.07" stroke="#000" stroke-width="6.6" stroke-linecap="butt"/>
<line x1="2069.7" y1="2399.07" x2="2102" y2="2399.07" stroke="#000" stroke-width="6.6" stroke-linecap="butt"/>
<line x1="1261.4" y1="2314.75" x2="1277.7" y2="2314.75" stroke="#000" stroke-width="6.6" stroke-linecap="butt"/>
<line x1="2085.7" y1="2314.75" x2="2102" y2="2314.75" stroke="#000" stroke-width="6.6" stroke-linecap="butt"/>
<line x1="1245.4" y1="2230.43" x2="1277.7" y2="2230.43" stroke="#000" stroke-width="6.6" stroke-linecap="butt"/>
<line x1="2069.7" y1="2230.43" x2="2102" y2="2230.43" stroke="#000" stroke-width="6.6" stroke-linecap="butt"/>
<line x1="1261.4" y1="2146.11" x2="1277.7" y2="2146.11" stroke="#000" stroke-width="6.6" stroke-linecap="butt"/>
<line x1="2085.7" y1="2146.11" x2="2102" y2="2146.11" stroke="#000" stroke-width="6.6" stroke-linecap="butt"/>
<line x1="1245.4" y1="2061.79" x2="1277.7" y2="2061.79" stroke="#000" stroke-width="6.6" stroke-linecap="butt"/>
<line x1="2069.7" y1="2061.79" x2="2102" y2="2061.79" stroke="#000" stroke-width="6.6" stroke-linecap="butt"/>
<line x1="1261.4" y1="1977.46" x2="1277.7" y2="1977.46" stroke="#000" stroke-width="6.6" stroke-linecap="butt"/>
<line x1="2085.7" y1="1977.46" x2="2102" y2="1977.46" stroke="#000" stroke-width="6.6" stroke-linecap="butt"/>
<line x1="1245.4" y1="1893.14" x2="1277.7" y2="1893.14" stroke="#000" stroke-width="6.6" stroke-linecap="butt"/>
<line x1="2069.7" y1="1893.14" x2="2102" y2="1893.14" stroke="#000" stroke-width="6.6" stroke-linecap="butt"/>
<line x1="1261.4" y1="1808.82" x2="1277.7" y2="1808.82" stroke="#000" stroke-width="6.6" stroke-linecap="butt"/>
<line x1="2085.7" y1="1808.82" x2="2102" y2="1808.82" stroke="#000" stroke-width="6.6" stroke-linecap="butt"/>
<line x1="1245.4" y1="1724.5" x2="1277.7" y2="1724.5" stroke="#000" stroke-width="6.6" stroke-linecap="butt"/>
<line x1="2069.7" y1="1724.5" x2="2102" y2="1724.5" stroke="#000" stroke-width="6.6" stroke-linecap="butt"/>
<text transform="translate(1222.8,2925) scale(1,1.03)" font-size="71" text-anchor="end">3</text>
<text transform="translate(1222.8,2756.36) scale(1,1.03)" font-size="71" text-anchor="end">4</text>
<text transform="translate(1222.8,2587.71) scale(1,1.03)" font-size="71" text-anchor="end">5</text>
<text transform="translate(1222.8,2419.07) scale(1,1.03)" font-size="71" text-anchor="end">6</text>
<text transform="translate(1222.8,2250.43) scale(1,1.03)" font-size="71" text-anchor="end">7</text>
<text transform="translate(1222.8,2081.79) scale(1,1.03)" font-size="71" text-anchor="end">8</text>
<text transform="translate(1222.8,1913.14) scale(1,1.03)" font-size="71" text-anchor="end">9</text>
<text transform="translate(1222.8,1744.5) scale(1,1.03)" font-size="71" text-anchor="end">10</text>
<text transform="translate(1277.7,3013.8) scale(1,1.03)" font-size="71" text-anchor="middle">4</text>
<text transform="translate(1483.78,3013.8) scale(1,1.03)" font-size="71" text-anchor="middle">6</text>
<text transform="translate(1689.85,3013.8) scale(1,1.03)" font-size="71" text-anchor="middle">8</text>
<text transform="translate(1895.92,3013.8) scale(1,1.03)" font-size="71" text-anchor="middle">10</text>
<text transform="translate(2102,3013.8) scale(1,1.03)" font-size="71" text-anchor="middle">12</text>
<rect x="496.2" y="705.9" width="449.8" height="573.2" fill="none" stroke="#000" stroke-width="4"/>
<line x1="496.2" y1="1279.1" x2="496.2" y2="1287.9" stroke="#000" stroke-width="4" stroke-linecap="butt"/>
<line x1="496.2" y1="705.9" x2="496.2" y2="714.7" stroke="#000" stroke-width="4" stroke-linecap="butt"/>
<line x1="533.68" y1="1279.1" x2="533.68" y2="1283.3" stroke="#000" stroke-width="4" stroke-linecap="butt"/>
<line x1="533.68" y1="705.9" x2="533.68" y2="710.1" stroke="#000" stroke-width="4" stroke-linecap="butt"/>
<line x1="571.17" y1="1279.1" x2="571.17" y2="1287.9" stroke="#000" stroke-width="4" stroke-linecap="butt"/>
<line x1="571.17" y1="705.9" x2="571.17" y2="714.7" stroke="#000" stroke-width="4" stroke-linecap="butt"/>
<line x1="608.65" y1="1279.1" x2="608.65" y2="1283.3" stroke="#000" stroke-width="4" stroke-linecap="butt"/>
<line x1="608.65" y1="705.9" x2="608.65" y2="710.1" stroke="#000" stroke-width="4" stroke-linecap="butt"/>
<line x1="646.13" y1="1279.1" x2="646.13" y2="1287.9" stroke="#000" stroke-width="4" stroke-linecap="butt"/>
<line x1="646.13" y1="705.9" x2="646.13" y2="714.7" stroke="#000" stroke-width="4" stroke-linecap="butt"/>
<line x1="683.62" y1="1279.1" x2="683.62" y2="1283.3" stroke="#000" stroke-width="4" stroke-linecap="butt"/>
<line x1="683.62" y1="705.9" x2="683.62" y2="710.1" stroke="#000" stroke-width="4" stroke-linecap="butt"/>
<line x1="721.1" y1="1279.1" x2="721.1" y2="1287.9" stroke="#000" stroke-width="4" stroke-linecap="butt"/>
<line x1="721.1" y1="705.9" x2="721.1" y2="714.7" stroke="#000" stroke-width="4" stroke-linecap="butt"/>
<line x1="758.58" y1="1279.1" x2="758.58" y2="1283.3" stroke="#000" stroke-width="4" stroke-linecap="butt"/>
<line x1="758.58" y1="705.9" x2="758.58" y2="710.1" stroke="#000" stroke-width="4" stroke-linecap="butt"/>
<line x1="796.07" y1="1279.1" x2="796.07" y2="1287.9" stroke="#000" stroke-width="4" stroke-linecap="butt"/>
<line x1="796.07" y1="705.9" x2="796.07" y2="714.7" stroke="#000" stroke-width="4" stroke-linecap="butt"/>
<line x1="833.55" y1="1279.1" x2="833.55" y2="1283.3" stroke="#000" stroke-width="4" stroke-linecap="butt"/>
<line x1="833.55" y1="705.9" x2="833.55" y2="710.1" stroke="#000" stroke-width="4" stroke-linecap="butt"/>
<line x1="871.03" y1="1279.1" x2="871.03" y2="1287.9" stroke="#000" stroke-width="4" stroke-linecap="butt"/>
<line x1="871.03" y1="705.9" x2="871.03" y2="714.7" stroke="#000" stroke-width="4" stroke-linecap="butt"/>
<line x1="908.52" y1="1279.1" x2="908.52" y2="1283.3" stroke="#000" stroke-width="4" stroke-linecap="butt"/>
<line x1="908.52" y1="705.9" x2="908.52" y2="710.1" stroke="#000" stroke-width="4" stroke-linecap="butt"/>
<line x1="946" y1="1279.1" x2="946" y2="1287.9" stroke="#000" stroke-width="4" stroke-linecap="butt"/>
<line x1="946" y1="705.9" x2="946" y2="714.7" stroke="#000" stroke-width="4" stroke-linecap="butt"/>
<line x1="487.4" y1="1279.1" x2="496.2" y2="1279.1" stroke="#000" stroke-width="4" stroke-linecap="butt"/>
<line x1="937.2" y1="1279.1" x2="946" y2="1279.1" stroke="#000" stroke-width="4" stroke-linecap="butt"/>
<line x1="492" y1="1183.57" x2="496.2" y2="1183.57" stroke="#000" stroke-width="4" stroke-linecap="butt"/>
<line x1="941.8" y1="1183.57" x2="946" y2="1183.57" stroke="#000" stroke-width="4" stroke-linecap="butt"/>
<line x1="487.4" y1="1088.03" x2="496.2" y2="1088.03" stroke="#000" stroke-width="4" stroke-linecap="butt"/>
<line x1="937.2" y1="1088.03" x2="946" y2="1088.03" stroke="#000" stroke-width="4" stroke-linecap="butt"/>
<line x1="492" y1="992.5" x2="496.2" y2="992.5" stroke="#000" stroke-width="4" stroke-linecap="butt"/>
<line x1="941.8" y1="992.5" x2="946" y2="992.5" stroke="#000" stroke-width="4" stroke-linecap="butt"/>
<line x1="487.4" y1="896.97" x2="496.2" y2="896.97" stroke="#000" stroke-width="4" stroke-linecap="butt"/>
<line x1="937.2" y1="896.97" x2="946" y2="896.97" stroke="#000" stroke-width="4" stroke-linecap="butt"/>
<line x1="492" y1="801.43" x2="496.2" y2="801.43" stroke="#000" stroke-width="4" stroke-linecap="butt"/>
<line x1="941.8" y1="801.43" x2="946" y2="801.43" stroke="#000" stroke-width="4" stroke-linecap="butt"/>
<line x1="487.4" y1="705.9" x2="496.2" y2="705.9" stroke="#000" stroke-width="4" stroke-linecap="butt"/>
<line x1="937.2" y1="705.9" x2="946" y2="705.9" stroke="#000" stroke-width="4" stroke-linecap="butt"/>
<text transform="translate(481.7,1290.3) scale(1,1.03)" font-size="37.6" text-anchor="end">9.5</text>
<text transform="translate(481.7,1099.23) scale(1,1.03)" font-size="37.6" text-anchor="end">10.0</text>
<text transform="translate(481.7,908.17) scale(1,1.03)" font-size="37.6" text-anchor="end">10.5</text>
<text transform="translate(481.7,717.1) scale(1,1.03)" font-size="37.6" text-anchor="end">11.0</text>
<text transform="translate(496.2,1322.4) scale(1,1.03)" font-size="37.6" text-anchor="middle">0</text>
<text transform="translate(571.17,1322.4) scale(1,1.03)" font-size="37.6" text-anchor="middle">5</text>
<text transform="translate(646.13,1322.4) scale(1,1.03)" font-size="37.6" text-anchor="middle">10</text>
<text transform="translate(721.1,1322.4) scale(1,1.03)" font-size="37.6" text-anchor="middle">15</text>
<text transform="translate(796.07,1322.4) scale(1,1.03)" font-size="37.6" text-anchor="middle">20</text>
<text transform="translate(871.03,1322.4) scale(1,1.03)" font-size="37.6" text-anchor="middle">25</text>
<text transform="translate(946,1322.4) scale(1,1.03)" font-size="37.6" text-anchor="middle">30</text>
<text transform="translate(671,1388.8) scale(1,1.03)" font-size="44.2">B (T)</text>
<text transform="translate(386.1,1070.9) rotate(-90) scale(1,1.03)" font-size="44.2">r<tspan font-size="28.3" dy="12">eh</tspan><tspan dy="-12"> (nm)</tspan></text>
<rect x="1393" y="750.1" width="436.9" height="531.9" fill="none" stroke="#000" stroke-width="4"/>
<line x1="1393" y1="1282" x2="1393" y2="1290.8" stroke="#000" stroke-width="4" stroke-linecap="butt"/>
<line x1="1393" y1="750.1" x2="1393" y2="758.9" stroke="#000" stroke-width="4" stroke-linecap="butt"/>
<line x1="1436.69" y1="1282" x2="1436.69" y2="1286.2" stroke="#000" stroke-width="4" stroke-linecap="butt"/>
<line x1="1436.69" y1="750.1" x2="1436.69" y2="754.3" stroke="#000" stroke-width="4" stroke-linecap="butt"/>
<line x1="1480.38" y1="1282" x2="1480.38" y2="1290.8" stroke="#000" stroke-width="4" stroke-linecap="butt"/>
<line x1="1480.38" y1="750.1" x2="1480.38" y2="758.9" stroke="#000" stroke-width="4" stroke-linecap="butt"/>
<line x1="1524.07" y1="1282" x2="1524.07" y2="1286.2" stroke="#000" stroke-width="4" stroke-linecap="butt"/>
<line x1="1524.07" y1="750.1" x2="1524.07" y2="754.3" stroke="#000" stroke-width="4" stroke-linecap="butt"/>
<line x1="1567.76" y1="1282" x2="1567.76" y2="1290.8" stroke="#000" stroke-width="4" stroke-linecap="butt"/>
<line x1="1567.76" y1="750.1" x2="1567.76" y2="758.9" stroke="#000" stroke-width="4" stroke-linecap="butt"/>
<line x1="1611.45" y1="1282" x2="1611.45" y2="1286.2" stroke="#000" stroke-width="4" stroke-linecap="butt"/>
<line x1="1611.45" y1="750.1" x2="1611.45" y2="754.3" stroke="#000" stroke-width="4" stroke-linecap="butt"/>
<line x1="1655.14" y1="1282" x2="1655.14" y2="1290.8" stroke="#000" stroke-width="4" stroke-linecap="butt"/>
<line x1="1655.14" y1="750.1" x2="1655.14" y2="758.9" stroke="#000" stroke-width="4" stroke-linecap="butt"/>
<line x1="1698.83" y1="1282" x2="1698.83" y2="1286.2" stroke="#000" stroke-width="4" stroke-linecap="butt"/>
<line x1="1698.83" y1="750.1" x2="1698.83" y2="754.3" stroke="#000" stroke-width="4" stroke-linecap="butt"/>
<line x1="1742.52" y1="1282" x2="1742.52" y2="1290.8" stroke="#000" stroke-width="4" stroke-linecap="butt"/>
<line x1="1742.52" y1="750.1" x2="1742.52" y2="758.9" stroke="#000" stroke-width="4" stroke-linecap="butt"/>
<line x1="1786.21" y1="1282" x2="1786.21" y2="1286.2" stroke="#000" stroke-width="4" stroke-linecap="butt"/>
<line x1="1786.21" y1="750.1" x2="1786.21" y2="754.3" stroke="#000" stroke-width="4" stroke-linecap="butt"/>
<line x1="1829.9" y1="1282" x2="1829.9" y2="1290.8" stroke="#000" stroke-width="4" stroke-linecap="butt"/>
<line x1="1829.9" y1="750.1" x2="1829.9" y2="758.9" stroke="#000" stroke-width="4" stroke-linecap="butt"/>
<line x1="1384.2" y1="1282" x2="1393" y2="1282" stroke="#000" stroke-width="4" stroke-linecap="butt"/>
<line x1="1821.1" y1="1282" x2="1829.9" y2="1282" stroke="#000" stroke-width="4" stroke-linecap="butt"/>
<line x1="1388.8" y1="1193.35" x2="1393" y2="1193.35" stroke="#000" stroke-width="4" stroke-linecap="butt"/>
<line x1="1825.7" y1="1193.35" x2="1829.9" y2="1193.35" stroke="#000" stroke-width="4" stroke-linecap="butt"/>
<line x1="1384.2" y1="1104.7" x2="1393" y2="1104.7" stroke="#000" stroke-width="4" stroke-linecap="butt"/>
<line x1="1821.1" y1="1104.7" x2="1829.9" y2="1104.7" stroke="#000" stroke-width="4" stroke-linecap="butt"/>
<line x1="1388.8" y1="1016.05" x2="1393" y2="1016.05" stroke="#000" stroke-width="4" stroke-linecap="butt"/>
<line x1="1825.7" y1="1016.05" x2="1829.9" y2="1016.05" stroke="#000" stroke-width="4" stroke-linecap="butt"/>
<line x1="1384.2" y1="927.4" x2="1393" y2="927.4" stroke="#000" stroke-width="4" stroke-linecap="butt"/>
<line x1="1821.1" y1="927.4" x2="1829.9" y2="927.4" stroke="#000" stroke-width="4" stroke-linecap="butt"/>
<line x1="1388.8" y1="838.75" x2="1393" y2="838.75" stroke="#000" stroke-width="4" stroke-linecap="butt"/>
<line x1="1825.7" y1="838.75" x2="1829.9" y2="838.75" stroke="#000" stroke-width="4" stroke-linecap="butt"/>
<line x1="1384.2" y1="750.1" x2="1393" y2="750.1" stroke="#000" stroke-width="4" stroke-linecap="butt"/>
<line x1="1821.1" y1="750.1" x2="1829.9" y2="750.1" stroke="#000" stroke-width="4" stroke-linecap="butt"/>
<text transform="translate(1379.7,1292.3) scale(1,1.03)" font-size="36.5" text-anchor="end">9</text>
<text transform="translate(1379.7,1115) scale(1,1.03)" font-size="36.5" text-anchor="end">10</text>
<text transform="translate(1379.7,937.7) scale(1,1.03)" font-size="36.5" text-anchor="end">11</text>
<text transform="translate(1379.7,760.4) scale(1,1.03)" font-size="36.5" text-anchor="end">12</text>
<text transform="translate(1393,1322.2) scale(1,1.03)" font-size="36.5" text-anchor="middle">0</text>
<text transform="translate(1480.38,1322.2) scale(1,1.03)" font-size="36.5" text-anchor="middle">2</text>
<text transform="translate(1567.76,1322.2) scale(1,1.03)" font-size="36.5" text-anchor="middle">4</text>
<text transform="translate(1655.14,1322.2) scale(1,1.03)" font-size="36.5" text-anchor="middle">6</text>
<text transform="translate(1742.52,1322.2) scale(1,1.03)" font-size="36.5" text-anchor="middle">8</text>
<text transform="translate(1829.9,1322.2) scale(1,1.03)" font-size="36.5" text-anchor="middle">10</text>
<text transform="translate(1511,1385.9) scale(1,1.03)" font-size="41.5">F<tspan font-size="28.8" dy="10.8">z</tspan><tspan dy="-10.8"> (kV/cm)</tspan></text>
<text transform="translate(1318,1091.2) rotate(-90) scale(1,1.03)" font-size="41.5">r<tspan font-size="28.8" dy="12">eh</tspan><tspan dy="-12"> (nm)</tspan></text>
<rect x="453" y="2289" width="436" height="489" fill="none" stroke="#000" stroke-width="4"/>
<line x1="453" y1="2778" x2="453" y2="2786.8" stroke="#000" stroke-width="4" stroke-linecap="butt"/>
<line x1="453" y1="2289" x2="453" y2="2297.8" stroke="#000" stroke-width="4" stroke-linecap="butt"/>
<line x1="489.33" y1="2778" x2="489.33" y2="2782.2" stroke="#000" stroke-width="4" stroke-linecap="butt"/>
<line x1="489.33" y1="2289" x2="489.33" y2="2293.2" stroke="#000" stroke-width="4" stroke-linecap="butt"/>
<line x1="525.67" y1="2778" x2="525.67" y2="2786.8" stroke="#000" stroke-width="4" stroke-linecap="butt"/>
<line x1="525.67" y1="2289" x2="525.67" y2="2297.8" stroke="#000" stroke-width="4" stroke-linecap="butt"/>
<line x1="562" y1="2778" x2="562" y2="2782.2" stroke="#000" stroke-width="4" stroke-linecap="butt"/>
<line x1="562" y1="2289" x2="562" y2="2293.2" stroke="#000" stroke-width="4" stroke-linecap="butt"/>
<line x1="598.33" y1="2778" x2="598.33" y2="2786.8" stroke="#000" stroke-width="4" stroke-linecap="butt"/>
<line x1="598.33" y1="2289" x2="598.33" y2="2297.8" stroke="#000" stroke-width="4" stroke-linecap="butt"/>
<line x1="634.67" y1="2778" x2="634.67" y2="2782.2" stroke="#000" stroke-width="4" stroke-linecap="butt"/>
<line x1="634.67" y1="2289" x2="634.67" y2="2293.2" stroke="#000" stroke-width="4" stroke-linecap="butt"/>
<line x1="671" y1="2778" x2="671" y2="2786.8" stroke="#000" stroke-width="4" stroke-linecap="butt"/>
<line x1="671" y1="2289" x2="671" y2="2297.8" stroke="#000" stroke-width="4" stroke-linecap="butt"/>
<line x1="707.33" y1="2778" x2="707.33" y2="2782.2" stroke="#000" stroke-width="4" stroke-linecap="butt"/>
<line x1="707.33" y1="2289" x2="707.33" y2="2293.2" stroke="#000" stroke-width="4" stroke-linecap="butt"/>
<line x1="743.67" y1="2778" x2="743.67" y2="2786.8" stroke="#000" stroke-width="4" stroke-linecap="butt"/>
<line x1="743.67" y1="2289" x2="743.67" y2="2297.8" stroke="#000" stroke-width="4" stroke-linecap="butt"/>
<line x1="780" y1="2778" x2="780" y2="2782.2" stroke="#000" stroke-width="4" stroke-linecap="butt"/>
<line x1="780" y1="2289" x2="780" y2="2293.2" stroke="#000" stroke-width="4" stroke-linecap="butt"/>
<line x1="816.33" y1="2778" x2="816.33" y2="2786.8" stroke="#000" stroke-width="4" stroke-linecap="butt"/>
<line x1="816.33" y1="2289" x2="816.33" y2="2297.8" stroke="#000" stroke-width="4" stroke-linecap="butt"/>
<line x1="852.67" y1="2778" x2="852.67" y2="2782.2" stroke="#000" stroke-width="4" stroke-linecap="butt"/>
<line x1="852.67" y1="2289" x2="852.67" y2="2293.2" stroke="#000" stroke-width="4" stroke-linecap="butt"/>
<line x1="889" y1="2778" x2="889" y2="2786.8" stroke="#000" stroke-width="4" stroke-linecap="butt"/>
<line x1="889" y1="2289" x2="889" y2="2297.8" stroke="#000" stroke-width="4" stroke-linecap="butt"/>
<line x1="444.2" y1="2778" x2="453" y2="2778" stroke="#000" stroke-width="4" stroke-linecap="butt"/>
<line x1="880.2" y1="2778" x2="889" y2="2778" stroke="#000" stroke-width="4" stroke-linecap="butt"/>
<line x1="448.8" y1="2696.5" x2="453" y2="2696.5" stroke="#000" stroke-width="4" stroke-linecap="butt"/>
<line x1="884.8" y1="2696.5" x2="889" y2="2696.5" stroke="#000" stroke-width="4" stroke-linecap="butt"/>
<line x1="444.2" y1="2615" x2="453" y2="2615" stroke="#000" stroke-width="4" stroke-linecap="butt"/>
<line x1="880.2" y1="2615" x2="889" y2="2615" stroke="#000" stroke-width="4" stroke-linecap="butt"/>
<line x1="448.8" y1="2533.5" x2="453" y2="2533.5" stroke="#000" stroke-width="4" stroke-linecap="butt"/>
<line x1="884.8" y1="2533.5" x2="889" y2="2533.5" stroke="#000" stroke-width="4" stroke-linecap="butt"/>
<line x1="444.2" y1="2452" x2="453" y2="2452" stroke="#000" stroke-width="4" stroke-linecap="butt"/>
<line x1="880.2" y1="2452" x2="889" y2="2452" stroke="#000" stroke-width="4" stroke-linecap="butt"/>
<line x1="448.8" y1="2370.5" x2="453" y2="2370.5" stroke="#000" stroke-width="4" stroke-linecap="butt"/>
<line x1="884.8" y1="2370.5" x2="889" y2="2370.5" stroke="#000" stroke-width="4" stroke-linecap="butt"/>
<line x1="444.2" y1="2289" x2="453" y2="2289" stroke="#000" stroke-width="4" stroke-linecap="butt"/>
<line x1="880.2" y1="2289" x2="889" y2="2289" stroke="#000" stroke-width="4" stroke-linecap="butt"/>
<text transform="translate(441.2,2791.5) scale(1,1.05)" font-size="40" text-anchor="end">10.5</text>
<text transform="translate(441.2,2628.5) scale(1,1.05)" font-size="40" text-anchor="end">11.0</text>
<text transform="translate(441.2,2465.5) scale(1,1.05)" font-size="40" text-anchor="end">11.5</text>
<text transform="translate(441.2,2302.5) scale(1,1.05)" font-size="40" text-anchor="end">12.0</text>
<text transform="translate(453,2822.4) scale(1,1.05)" font-size="40" text-anchor="middle">0</text>
<text transform="translate(525.67,2822.4) scale(1,1.05)" font-size="40" text-anchor="middle">5</text>
<text transform="translate(598.33,2822.4) scale(1,1.05)" font-size="40" text-anchor="middle">10</text>
<text transform="translate(671,2822.4) scale(1,1.05)" font-size="40" text-anchor="middle">15</text>
<text transform="translate(743.67,2822.4) scale(1,1.05)" font-size="40" text-anchor="middle">20</text>
<text transform="translate(816.33,2822.4) scale(1,1.05)" font-size="40" text-anchor="middle">25</text>
<text transform="translate(889,2822.4) scale(1,1.05)" font-size="40" text-anchor="middle">30</text>
<text transform="translate(615.7,2893.9) scale(1,1.03)" font-size="48.5">B (T)</text>
<text transform="translate(340,2621.3) rotate(-90) scale(1,1.03)" font-size="48.5">r<tspan font-size="32" dy="13">eh</tspan><tspan dy="-13"> (nm)</tspan></text>
<rect x="1480" y="2217.6" width="465" height="542.7" fill="none" stroke="#000" stroke-width="4"/>
<line x1="1480" y1="2760.3" x2="1480" y2="2769.1" stroke="#000" stroke-width="4" stroke-linecap="butt"/>
<line x1="1480" y1="2217.6" x2="1480" y2="2226.4" stroke="#000" stroke-width="4" stroke-linecap="butt"/>
<line x1="1538.12" y1="2760.3" x2="1538.12" y2="2764.5" stroke="#000" stroke-width="4" stroke-linecap="butt"/>
<line x1="1538.12" y1="2217.6" x2="1538.12" y2="2221.8" stroke="#000" stroke-width="4" stroke-linecap="butt"/>
<line x1="1596.25" y1="2760.3" x2="1596.25" y2="2769.1" stroke="#000" stroke-width="4" stroke-linecap="butt"/>
<line x1="1596.25" y1="2217.6" x2="1596.25" y2="2226.4" stroke="#000" stroke-width="4" stroke-linecap="butt"/>
<line x1="1654.38" y1="2760.3" x2="1654.38" y2="2764.5" stroke="#000" stroke-width="4" stroke-linecap="butt"/>
<line x1="1654.38" y1="2217.6" x2="1654.38" y2="2221.8" stroke="#000" stroke-width="4" stroke-linecap="butt"/>
<line x1="1712.5" y1="2760.3" x2="1712.5" y2="2769.1" stroke="#000" stroke-width="4" stroke-linecap="butt"/>
<line x1="1712.5" y1="2217.6" x2="1712.5" y2="2226.4" stroke="#000" stroke-width="4" stroke-linecap="butt"/>
<line x1="1770.62" y1="2760.3" x2="1770.62" y2="2764.5" stroke="#000" stroke-width="4" stroke-linecap="butt"/>
<line x1="1770.62" y1="2217.6" x2="1770.62" y2="2221.8" stroke="#000" stroke-width="4" stroke-linecap="butt"/>
<line x1="1828.75" y1="2760.3" x2="1828.75" y2="2769.1" stroke="#000" stroke-width="4" stroke-linecap="butt"/>
<line x1="1828.75" y1="2217.6" x2="1828.75" y2="2226.4" stroke="#000" stroke-width="4" stroke-linecap="butt"/>
<line x1="1886.88" y1="2760.3" x2="1886.88" y2="2764.5" stroke="#000" stroke-width="4" stroke-linecap="butt"/>
<line x1="1886.88" y1="2217.6" x2="1886.88" y2="2221.8" stroke="#000" stroke-width="4" stroke-linecap="butt"/>
<line x1="1945" y1="2760.3" x2="1945" y2="2769.1" stroke="#000" stroke-width="4" stroke-linecap="butt"/>
<line x1="1945" y1="2217.6" x2="1945" y2="2226.4" stroke="#000" stroke-width="4" stroke-linecap="butt"/>
<line x1="1471.2" y1="2760.3" x2="1480" y2="2760.3" stroke="#000" stroke-width="4" stroke-linecap="butt"/>
<line x1="1936.2" y1="2760.3" x2="1945" y2="2760.3" stroke="#000" stroke-width="4" stroke-linecap="butt"/>
<line x1="1475.8" y1="2715.08" x2="1480" y2="2715.08" stroke="#000" stroke-width="4" stroke-linecap="butt"/>
<line x1="1940.8" y1="2715.08" x2="1945" y2="2715.08" stroke="#000" stroke-width="4" stroke-linecap="butt"/>
<line x1="1471.2" y1="2669.85" x2="1480" y2="2669.85" stroke="#000" stroke-width="4" stroke-linecap="butt"/>
<line x1="1936.2" y1="2669.85" x2="1945" y2="2669.85" stroke="#000" stroke-width="4" stroke-linecap="butt"/>
<line x1="1475.8" y1="2624.62" x2="1480" y2="2624.62" stroke="#000" stroke-width="4" stroke-linecap="butt"/>
<line x1="1940.8" y1="2624.62" x2="1945" y2="2624.62" stroke="#000" stroke-width="4" stroke-linecap="butt"/>
<line x1="1471.2" y1="2579.4" x2="1480" y2="2579.4" stroke="#000" stroke-width="4" stroke-linecap="butt"/>
<line x1="1936.2" y1="2579.4" x2="1945" y2="2579.4" stroke="#000" stroke-width="4" stroke-linecap="butt"/>
<line x1="1475.8" y1="2534.18" x2="1480" y2="2534.18" stroke="#000" stroke-width="4" stroke-linecap="butt"/>
<line x1="1940.8" y1="2534.18" x2="1945" y2="2534.18" stroke="#000" stroke-width="4" stroke-linecap="butt"/>
<line x1="1471.2" y1="2488.95" x2="1480" y2="2488.95" stroke="#000" stroke-width="4" stroke-linecap="butt"/>
<line x1="1936.2" y1="2488.95" x2="1945" y2="2488.95" stroke="#000" stroke-width="4" stroke-linecap="butt"/>
<line x1="1475.8" y1="2443.72" x2="1480" y2="2443.72" stroke="#000" stroke-width="4" stroke-linecap="butt"/>
<line x1="1940.8" y1="2443.72" x2="1945" y2="2443.72" stroke="#000" stroke-width="4" stroke-linecap="butt"/>
<line x1="1471.2" y1="2398.5" x2="1480" y2="2398.5" stroke="#000" stroke-width="4" stroke-linecap="butt"/>
<line x1="1936.2" y1="2398.5" x2="1945" y2="2398.5" stroke="#000" stroke-width="4" stroke-linecap="butt"/>
<line x1="1475.8" y1="2353.28" x2="1480" y2="2353.28" stroke="#000" stroke-width="4" stroke-linecap="butt"/>
<line x1="1940.8" y1="2353.28" x2="1945" y2="2353.28" stroke="#000" stroke-width="4" stroke-linecap="butt"/>
<line x1="1471.2" y1="2308.05" x2="1480" y2="2308.05" stroke="#000" stroke-width="4" stroke-linecap="butt"/>
<line x1="1936.2" y1="2308.05" x2="1945" y2="2308.05" stroke="#000" stroke-width="4" stroke-linecap="butt"/>
<line x1="1475.8" y1="2262.82" x2="1480" y2="2262.82" stroke="#000" stroke-width="4" stroke-linecap="butt"/>
<line x1="1940.8" y1="2262.82" x2="1945" y2="2262.82" stroke="#000" stroke-width="4" stroke-linecap="butt"/>
<line x1="1471.2" y1="2217.6" x2="1480" y2="2217.6" stroke="#000" stroke-width="4" stroke-linecap="butt"/>
<line x1="1936.2" y1="2217.6" x2="1945" y2="2217.6" stroke="#000" stroke-width="4" stroke-linecap="butt"/>
<text transform="translate(1465.5,2772.8) scale(1,1.05)" font-size="37.4" text-anchor="end">7.5</text>
<text transform="translate(1465.5,2682.35) scale(1,1.05)" font-size="37.4" text-anchor="end">8.0</text>
<text transform="translate(1465.5,2591.9) scale(1,1.05)" font-size="37.4" text-anchor="end">8.5</text>
<text transform="translate(1465.5,2501.45) scale(1,1.05)" font-size="37.4" text-anchor="end">9.0</text>
<text transform="translate(1465.5,2411) scale(1,1.05)" font-size="37.4" text-anchor="end">9.5</text>
<text transform="translate(1465.5,2320.55) scale(1,1.05)" font-size="37.4" text-anchor="end">10.0</text>
<text transform="translate(1465.5,2230.1) scale(1,1.05)" font-size="37.4" text-anchor="end">10.5</text>
<text transform="translate(1480,2803.5) scale(1,1.05)" font-size="37.4" text-anchor="middle">4</text>
<text transform="translate(1596.25,2803.5) scale(1,1.05)" font-size="37.4" text-anchor="middle">6</text>
<text transform="translate(1712.5,2803.5) scale(1,1.05)" font-size="37.4" text-anchor="middle">8</text>
<text transform="translate(1828.75,2803.5) scale(1,1.05)" font-size="37.4" text-anchor="middle">10</text>
<text transform="translate(1945,2803.5) scale(1,1.05)" font-size="37.4" text-anchor="middle">12</text>
<text transform="translate(1636.9,2870) scale(1,1.03)" font-size="42.8">R<tspan font-size="29" dy="10.6">1</tspan><tspan dy="-10.6"> (nm)</tspan></text>
<text transform="translate(1370.1,2565.7) rotate(-90) scale(1,1.03)" font-size="42.8">r<tspan font-size="29" dy="11.9">eh</tspan><tspan dy="-11.9"> (nm)</tspan></text>
<text transform="translate(999,319.9)" font-size="72" text-anchor="start">(a)</text>
<text transform="translate(1982.4,324.1)" font-size="72" text-anchor="start">(b)</text>
<text transform="translate(1009.1,1816.1)" font-size="72" text-anchor="start">(c)</text>
<text transform="translate(1967.7,1831.9)" font-size="72" text-anchor="start">(d)</text>
<text transform="translate(707.8,1650.7) scale(1,1.03)" font-size="86" text-anchor="middle">B (T)</text>
<text transform="translate(707.8,3153.5) scale(1,1.03)" font-size="86" text-anchor="middle">B (T)</text>
<text transform="translate(1483.2,1650.6) scale(1,1.03)" font-size="86">F<tspan font-size="60" dy="24">z</tspan><tspan dy="-24"> (kV/cm)</tspan></text>
<text transform="translate(1537.05,3153) scale(1,1.03)" font-size="86">R<tspan font-size="60" dy="23.6">1</tspan><tspan dy="-23.6"> (nm)</tspan></text>
<text transform="translate(107.9,1022.5) rotate(-90) scale(1,1.03)" font-size="86">E<tspan font-size="60" dy="24.3">exc</tspan><tspan dy="-24.3"> (meV)</tspan></text>
<text transform="translate(107.9,2524.8) rotate(-90) scale(1,1.03)" font-size="86">E<tspan font-size="60" dy="24.3">exc</tspan><tspan dy="-24.3"> (meV)</tspan></text>
</svg>
</body></html>
